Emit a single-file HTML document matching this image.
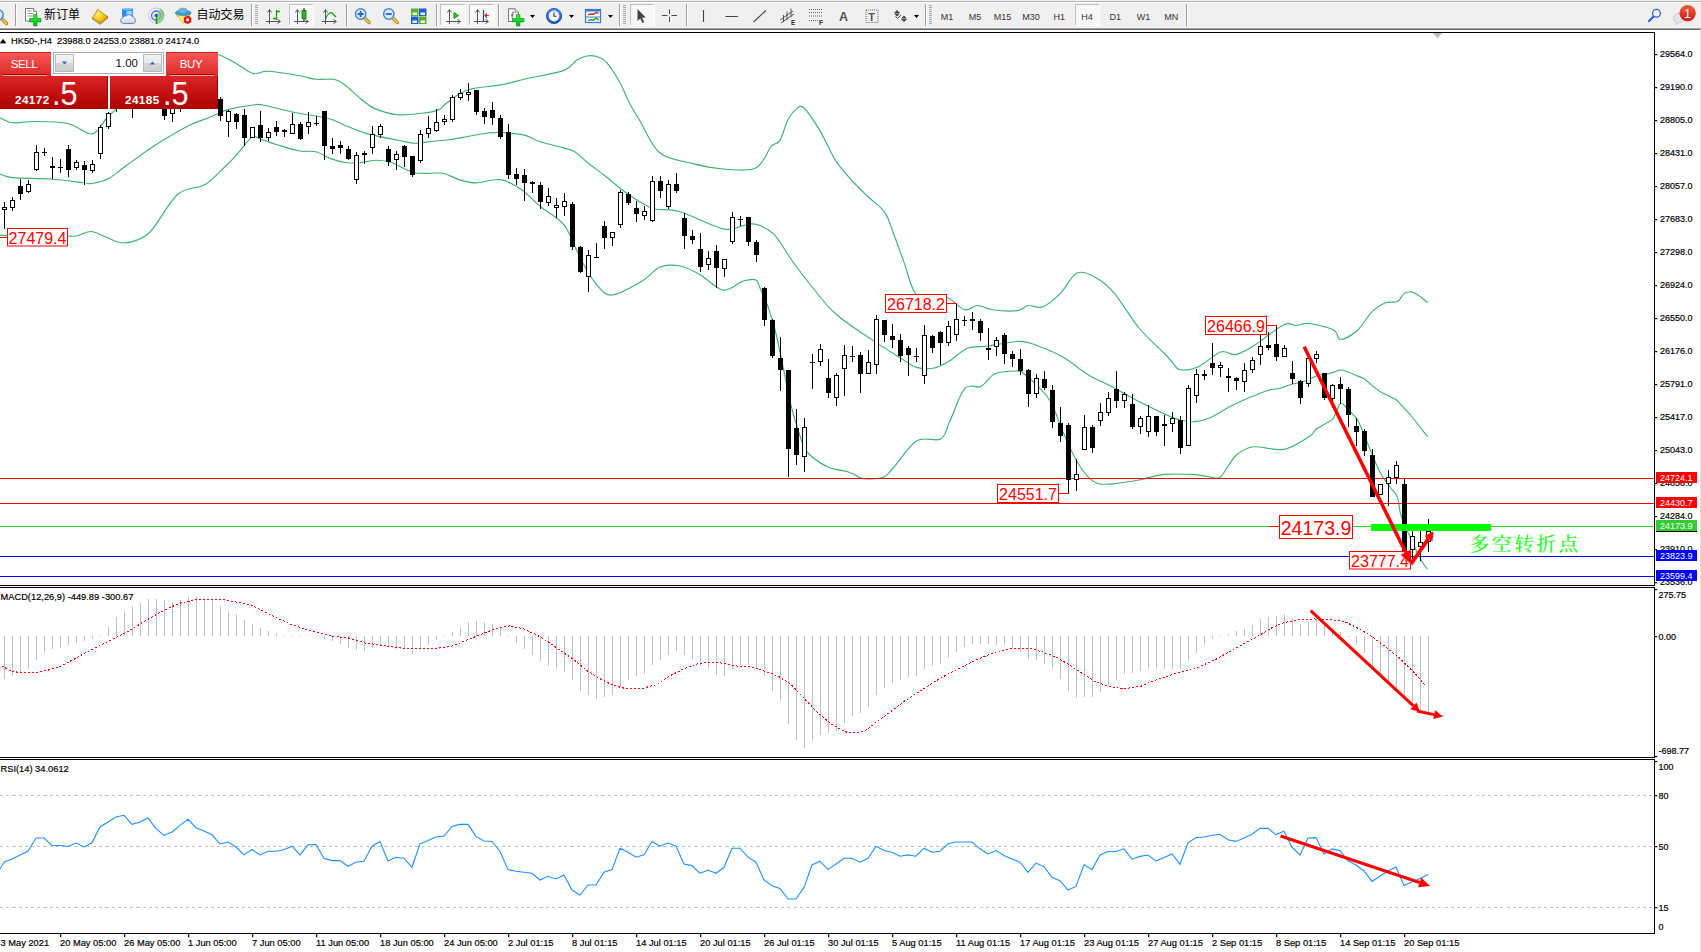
<!DOCTYPE html>
<html lang="zh-CN">
<head>
<meta charset="utf-8">
<title>HK50-,H4</title>
<style>
html,body{margin:0;padding:0;background:#fff;}
body{width:1701px;height:952px;overflow:hidden;position:relative;font-family:"Liberation Sans","Noto Sans CJK SC",sans-serif;}
#panel{position:absolute;left:0;top:52px;width:218px;height:57px;background:#fff;}
.pb{position:absolute;background:linear-gradient(#f85656,#dc2a2a);color:#fff;font-size:11.5px;text-align:center;}
.pp{position:absolute;top:24px;height:33px;background:linear-gradient(#da2626,#b00000);color:#fff;box-sizing:border-box;border-right:1px solid #a40000;border-bottom:1px solid #a40000;}
.pp b{position:absolute;font-size:11.7px;letter-spacing:0.42px;bottom:1.6px;}
.pp span{position:absolute;font-size:34px;line-height:34px;bottom:-1.6px;transform:scaleX(0.9);transform-origin:0 0;}
</style>
</head>
<body>
<svg width="1701" height="952" viewBox="0 0 1701 952" style="position:absolute;left:0;top:0" font-family='"Liberation Sans", "Noto Sans CJK SC", sans-serif'>
<defs><clipPath id="cm"><rect x="0" y="33" width="1654" height="552"/></clipPath></defs>
<g fill="none" stroke="#3cb371" stroke-width="1.15" clip-path="url(#cm)">
<path d="M0.0,117.7C2.1,118.5 7.1,122.2 12.6,122.8C18.1,123.4 23.8,121.4 33.0,121.5C42.2,121.6 58.2,121.4 68.0,123.5C77.8,125.6 85.7,134.8 92.0,134.0C98.3,133.2 102.4,122.8 106.0,119.0C109.6,115.2 110.5,114.6 113.7,111.4C116.9,108.2 117.3,105.9 125.0,100.0C132.7,94.1 149.2,82.8 160.0,76.0C170.8,69.2 182.0,62.8 190.0,59.0C198.0,55.2 203.2,54.2 208.0,53.5C212.8,52.8 214.2,53.2 218.8,54.8C223.4,56.4 229.6,59.8 235.3,62.9C241.0,66.0 247.6,72.1 253.0,73.5C258.4,74.9 260.4,70.9 268.0,71.2C275.6,71.5 290.5,74.2 298.5,75.5C306.5,76.8 310.1,78.7 316.0,79.3C321.9,79.9 329.2,78.5 333.9,79.3C338.6,80.1 339.4,80.9 344.0,84.3C348.6,87.7 356.6,95.5 361.7,99.5C366.8,103.5 368.4,105.9 374.3,108.4C380.2,110.9 388.6,114.0 397.0,114.7C405.4,115.5 417.9,113.8 424.9,112.9C431.9,112.1 435.2,111.2 438.8,109.6C442.4,108.0 442.8,106.0 446.4,103.3C450.0,100.6 455.9,95.7 460.3,93.2C464.7,90.8 466.2,90.0 472.9,88.6C479.6,87.2 491.8,86.5 500.7,84.9C509.6,83.3 515.5,81.2 526.0,78.8C536.5,76.4 555.5,73.5 563.9,70.4C572.3,67.3 572.7,62.7 576.5,60.3C580.3,57.9 583.3,56.6 586.7,56.0C590.1,55.4 593.4,55.4 596.8,56.5C600.2,57.6 603.1,58.7 606.9,62.9C610.7,67.1 615.7,75.1 619.5,81.8C623.3,88.5 626.2,96.8 629.6,103.3C633.0,109.8 634.9,112.7 640.0,121.0C645.1,129.3 651.2,145.9 660.0,153.0C668.8,160.1 682.5,160.9 693.0,163.6C703.5,166.3 713.2,168.1 723.0,169.0C732.8,169.9 745.3,170.7 752.0,169.3C758.7,167.9 759.8,164.4 763.0,160.5C766.2,156.6 768.5,149.3 771.3,146.0C774.1,142.7 777.3,144.7 780.0,140.4C782.7,136.1 785.0,125.5 787.7,120.2C790.5,115.0 793.8,110.9 796.5,108.9C799.2,106.9 800.0,104.2 804.0,108.0C808.0,111.8 815.2,122.8 820.5,131.6C825.8,140.4 830.1,152.2 835.6,160.6C841.1,169.0 847.8,175.9 853.3,182.0C858.8,188.1 863.1,191.9 868.4,197.0C873.6,202.1 880.6,206.2 884.8,212.3C889.0,218.4 890.5,225.5 893.6,233.7C896.8,241.9 900.1,251.5 903.7,261.4C907.3,271.3 910.6,287.1 915.0,292.9C919.4,298.7 924.5,295.1 930.0,296.0C935.5,296.9 942.2,295.7 948.0,298.0C953.8,300.3 959.9,308.6 964.8,309.8C969.7,311.1 972.8,305.5 977.4,305.5C982.0,305.5 985.9,308.9 992.6,309.8C999.3,310.7 1011.9,311.3 1017.8,310.6C1023.7,309.9 1023.8,306.1 1028.0,305.5C1032.2,304.9 1037.5,308.9 1043.0,306.8C1048.5,304.7 1055.1,298.5 1060.8,292.9C1066.5,287.3 1071.1,275.5 1077.0,273.0C1082.9,270.5 1089.8,274.4 1096.0,277.7C1102.2,281.0 1106.8,284.5 1114.0,292.9C1121.2,301.3 1130.6,317.9 1139.0,328.0C1147.4,338.1 1159.0,347.8 1164.5,353.5C1170.0,359.2 1169.4,359.3 1172.0,362.0C1174.6,364.7 1175.7,368.9 1180.0,369.7C1184.3,370.5 1191.0,369.9 1197.8,367.0C1204.6,364.1 1214.3,354.1 1220.6,352.0C1226.9,349.9 1230.2,355.6 1235.7,354.6C1241.2,353.6 1245.4,351.0 1253.4,346.0C1261.4,341.0 1276.5,328.1 1283.7,324.7C1290.9,321.3 1292.2,325.7 1296.4,325.5C1300.6,325.3 1302.8,322.8 1309.0,323.5C1315.2,324.2 1328.4,327.3 1333.6,330.0C1338.8,332.7 1336.5,339.4 1340.4,339.5C1344.3,339.6 1351.9,335.1 1357.2,330.5C1362.5,325.9 1367.4,316.2 1372.0,311.6C1376.6,307.0 1380.7,304.7 1384.9,303.0C1389.2,301.3 1394.3,303.0 1397.5,301.5C1400.7,300.0 1401.5,295.5 1403.8,293.9C1406.1,292.3 1408.7,291.5 1411.4,291.9C1414.1,292.3 1417.3,294.6 1420.0,296.4C1422.7,298.2 1426.5,301.7 1427.8,302.8"/>
<path d="M0.0,174.0C2.1,174.6 4.2,176.8 12.6,177.6C21.0,178.4 38.7,178.2 50.5,179.0C62.3,179.8 76.5,181.9 83.4,182.7C90.3,183.4 87.8,184.2 92.0,183.5C96.2,182.8 103.0,181.3 108.7,178.4C114.4,175.5 118.0,171.5 126.0,165.8C134.0,160.1 146.1,151.1 156.7,144.3C167.3,137.6 180.7,129.8 189.6,125.3C198.5,120.8 203.7,119.8 210.0,117.2C216.3,114.6 220.5,111.6 227.7,109.6C234.9,107.6 247.1,105.8 253.0,105.0C258.9,104.2 256.3,103.8 263.0,105.0C269.7,106.2 282.4,110.0 293.4,112.2C304.4,114.5 319.9,116.2 328.8,118.5C337.7,120.8 340.2,123.5 346.5,126.0C352.8,128.5 358.3,131.3 366.7,133.6C375.1,135.9 389.0,138.4 397.0,140.0C405.0,141.6 408.9,143.0 414.8,143.2C420.7,143.4 426.9,141.7 432.4,141.2C437.9,140.7 442.5,140.6 447.6,140.0C452.7,139.4 456.1,138.6 462.8,137.4C469.5,136.2 481.7,133.8 488.0,133.0C494.3,132.2 494.8,132.1 500.7,132.4C506.6,132.7 517.2,133.4 523.5,134.9C529.8,136.4 532.7,139.2 538.6,141.2C544.5,143.2 552.9,145.1 558.8,146.8C564.7,148.5 568.9,148.4 574.0,151.3C579.1,154.2 584.2,160.0 589.2,164.0C594.2,168.0 598.4,170.7 604.3,175.3C610.2,179.9 618.6,187.4 624.6,191.8C630.6,196.2 634.9,199.0 640.0,201.9C645.1,204.8 648.3,207.4 655.0,209.0C661.7,210.6 668.7,208.4 680.0,211.7C691.3,215.0 712.4,226.6 723.0,228.9C733.6,231.2 738.1,226.4 743.6,225.6C749.1,224.8 750.9,222.8 756.0,224.3C761.1,225.8 768.1,228.5 774.0,234.4C779.9,240.3 785.5,251.6 791.6,260.0C797.7,268.4 803.2,276.0 810.6,285.0C818.0,294.0 825.3,304.7 835.8,314.0C846.3,323.3 863.2,333.7 873.7,340.9C884.2,348.1 891.8,352.6 899.0,357.0C906.2,361.4 910.8,365.6 916.7,367.4C922.6,369.2 928.9,369.1 934.4,368.0C939.9,366.9 944.2,364.2 949.6,361.0C955.0,357.8 960.7,351.0 967.0,348.5C973.3,346.0 978.7,347.2 987.5,346.0C996.3,344.8 1011.6,341.4 1020.0,341.4C1028.4,341.4 1030.8,343.4 1038.0,346.0C1045.2,348.6 1054.6,352.2 1063.0,357.0C1071.4,361.8 1080.1,369.9 1088.6,375.0C1097.1,380.1 1105.6,383.3 1114.0,387.7C1122.4,392.1 1130.6,397.2 1139.0,401.6C1147.4,406.0 1157.7,410.9 1164.5,414.0C1171.3,417.1 1174.9,418.7 1180.0,420.0C1185.1,421.3 1190.0,422.0 1195.0,421.6C1200.0,421.2 1203.7,420.6 1210.0,417.8C1216.3,415.0 1223.7,409.5 1233.0,405.0C1242.3,400.5 1258.2,393.8 1266.0,391.0C1273.8,388.2 1275.6,389.5 1280.0,388.3C1284.4,387.1 1288.4,385.2 1292.6,384.0C1296.8,382.8 1301.2,382.4 1305.2,381.0C1309.2,379.6 1313.1,376.9 1316.8,375.7C1320.5,374.5 1324.3,374.6 1327.3,374.0C1330.3,373.4 1332.4,372.7 1334.6,372.0C1336.8,371.3 1338.5,370.1 1340.4,370.0C1342.3,369.9 1343.7,370.3 1346.2,371.2C1348.7,372.1 1352.6,373.9 1355.6,375.2C1358.6,376.5 1361.2,377.1 1364.0,378.8C1366.8,380.6 1369.6,383.5 1372.4,385.7C1375.2,387.9 1377.0,389.7 1380.8,392.0C1384.6,394.3 1392.2,397.2 1395.5,399.3C1398.8,401.4 1398.2,401.8 1400.8,404.6C1403.4,407.4 1407.8,411.9 1411.3,416.0C1414.8,420.1 1419.0,425.9 1421.8,429.3C1424.5,432.8 1426.8,435.5 1427.8,436.7"/>
<path d="M0.0,235.3C10.0,235.4 47.3,235.7 60.0,235.8C72.7,235.9 70.8,236.7 76.0,236.0C81.2,235.3 86.2,231.4 91.0,231.5C95.8,231.6 99.5,234.6 105.0,236.5C110.5,238.4 116.7,243.6 124.0,243.0C131.3,242.4 140.2,241.0 149.0,233.0C157.8,225.0 168.2,202.8 177.0,195.0C185.8,187.2 196.5,188.3 202.0,186.0C207.5,183.7 207.0,183.3 210.0,180.9C213.0,178.5 215.8,175.7 220.0,171.6C224.2,167.5 230.0,162.1 235.3,156.4C240.6,150.7 247.5,140.3 251.7,137.4C255.9,134.5 256.6,138.0 260.6,139.2C264.6,140.3 269.4,142.4 275.7,144.3C282.0,146.2 291.8,149.6 298.5,150.8C305.2,152.1 310.5,150.5 316.0,151.8C321.5,153.2 326.2,157.1 331.3,158.9C336.4,160.7 341.9,162.1 346.5,162.7C351.1,163.3 353.9,163.1 359.0,162.7C364.1,162.3 371.3,160.2 376.8,160.2C382.3,160.2 385.7,160.6 392.0,162.7C398.3,164.8 406.4,171.0 414.8,172.8C423.2,174.6 435.5,172.2 442.6,173.3C449.8,174.4 452.2,177.5 457.7,179.1C463.2,180.7 468.2,182.8 475.4,182.9C482.6,183.0 493.1,178.5 500.7,179.6C508.3,180.7 514.2,184.7 520.9,189.3C527.6,193.9 533.8,201.1 541.0,207.0C548.2,212.9 558.0,217.4 563.9,224.6C569.8,231.8 573.1,243.3 576.5,250.0C579.9,256.7 580.6,259.2 584.0,265.0C587.4,270.8 592.3,280.0 597.0,285.0C601.7,290.0 604.4,295.7 612.0,295.0C619.6,294.3 634.4,285.7 642.4,281.0C650.4,276.3 653.7,269.5 660.0,267.0C666.3,264.5 673.2,264.7 680.0,266.0C686.8,267.3 693.4,270.9 700.6,274.9C707.8,278.9 715.8,289.0 723.0,290.0C730.2,291.0 738.1,282.7 743.6,281.0C749.1,279.3 753.3,278.8 756.0,280.0C758.7,281.2 758.1,283.8 760.0,288.0C761.9,292.2 765.1,298.6 767.6,305.5C770.1,312.4 772.1,317.8 775.0,329.5C777.9,341.2 782.5,364.0 785.0,376.0C787.5,388.0 787.4,391.4 790.0,401.6C792.6,411.8 797.4,428.4 800.4,437.0C803.4,445.6 803.4,448.0 808.0,453.0C812.6,458.0 821.2,463.8 828.0,467.0C834.8,470.2 843.0,470.2 848.5,472.0C854.0,473.8 857.6,476.8 861.0,478.0C864.4,479.2 864.9,479.2 868.7,479.0C872.5,478.8 879.7,479.0 883.9,477.0C888.1,475.0 888.5,473.1 894.0,467.0C899.5,460.9 908.9,445.4 916.7,440.7C924.5,436.0 935.2,442.1 940.7,439.0C946.2,435.9 945.6,430.2 949.6,421.8C953.6,413.4 959.6,394.3 964.8,388.4C970.0,382.5 976.0,388.8 981.0,386.4C986.0,384.0 988.9,376.4 995.0,373.8C1001.1,371.2 1013.0,371.0 1017.8,371.0C1022.6,371.0 1020.6,371.2 1024.0,373.8C1027.4,376.4 1033.5,381.8 1038.0,386.4C1042.5,391.0 1046.5,394.0 1050.7,401.6C1054.9,409.2 1058.8,422.2 1063.0,431.9C1067.2,441.6 1071.7,452.1 1076.0,459.7C1080.3,467.3 1084.8,473.4 1088.6,477.4C1092.4,481.4 1094.5,482.6 1098.7,483.7C1102.9,484.8 1107.3,484.3 1114.0,483.7C1120.7,483.1 1130.6,481.6 1139.0,480.0C1147.4,478.4 1155.2,475.3 1164.5,474.4C1173.8,473.5 1187.4,474.2 1195.0,474.6C1202.6,475.0 1205.7,476.6 1210.0,477.0C1214.3,477.4 1216.3,480.2 1220.6,476.7C1224.9,473.1 1230.2,460.7 1235.7,455.7C1241.2,450.7 1245.4,447.9 1253.4,446.8C1261.4,445.8 1274.4,451.1 1283.7,449.4C1293.0,447.7 1303.6,440.0 1309.0,436.7C1314.4,433.4 1313.5,431.3 1316.0,429.3C1318.5,427.3 1321.2,426.2 1324.0,424.5C1326.8,422.8 1330.5,421.2 1332.5,419.3C1334.5,417.4 1334.4,415.6 1335.7,413.0C1337.0,410.4 1338.8,404.6 1340.4,403.5C1342.1,402.4 1343.8,405.1 1345.6,406.7C1347.4,408.3 1349.7,411.2 1351.4,413.0C1353.1,414.8 1354.6,415.8 1356.0,417.7C1357.4,419.6 1358.0,420.5 1359.8,424.5C1361.6,428.5 1363.7,433.9 1367.0,441.8C1370.3,449.7 1376.0,464.5 1379.8,472.0C1383.6,479.5 1387.0,482.8 1390.0,487.0C1393.0,491.2 1395.7,492.6 1397.5,497.4C1399.3,502.2 1399.0,509.3 1401.0,515.7C1403.0,522.1 1406.9,529.7 1409.5,535.6C1412.1,541.5 1414.2,546.5 1416.4,550.9C1418.6,555.3 1420.7,559.2 1422.5,562.3C1424.3,565.3 1426.6,568.1 1427.4,569.2"/>
</g>
<g shape-rendering="crispEdges">
<rect x="0" y="478" width="1654" height="1" fill="#ff0000"/>
<rect x="0" y="503" width="1654" height="1" fill="#ff0000"/>
<rect x="0" y="526" width="1654" height="1" fill="#32cd32"/>
<rect x="0" y="556" width="1654" height="1" fill="#0000ff"/>
<rect x="0" y="576" width="1654" height="1" fill="#0000ff"/>
</g>
<g shape-rendering="crispEdges" clip-path="url(#cm)">
<rect x="4" y="202" width="1" height="27" fill="#000"/>
<rect x="2" y="207" width="5" height="3" fill="#000"/>
<rect x="3" y="208" width="3" height="1" fill="#fff"/>
<rect x="12" y="197" width="1" height="14" fill="#000"/>
<rect x="10" y="200" width="5" height="8" fill="#000"/>
<rect x="11" y="201" width="3" height="6" fill="#fff"/>
<rect x="20" y="179" width="1" height="21" fill="#000"/>
<rect x="18" y="186" width="5" height="8" fill="#000"/>
<rect x="28" y="180" width="1" height="13" fill="#000"/>
<rect x="26" y="184" width="5" height="8" fill="#000"/>
<rect x="27" y="185" width="3" height="6" fill="#fff"/>
<rect x="36" y="145" width="1" height="26" fill="#000"/>
<rect x="34" y="152" width="5" height="18" fill="#000"/>
<rect x="35" y="153" width="3" height="16" fill="#fff"/>
<rect x="44" y="148" width="1" height="8" fill="#000"/>
<rect x="42" y="152" width="5" height="1" fill="#000"/>
<rect x="52" y="157" width="1" height="22" fill="#000"/>
<rect x="50" y="166" width="5" height="2" fill="#000"/>
<rect x="60" y="159" width="1" height="14" fill="#000"/>
<rect x="58" y="167" width="5" height="1" fill="#000"/>
<rect x="68" y="145" width="1" height="32" fill="#000"/>
<rect x="66" y="149" width="5" height="21" fill="#000"/>
<rect x="76" y="160" width="1" height="10" fill="#000"/>
<rect x="74" y="162" width="5" height="6" fill="#000"/>
<rect x="75" y="163" width="3" height="4" fill="#fff"/>
<rect x="84" y="161" width="1" height="24" fill="#000"/>
<rect x="82" y="165" width="5" height="5" fill="#000"/>
<rect x="92" y="160" width="1" height="13" fill="#000"/>
<rect x="90" y="164" width="5" height="7" fill="#000"/>
<rect x="91" y="165" width="3" height="5" fill="#fff"/>
<rect x="100" y="125" width="1" height="34" fill="#000"/>
<rect x="98" y="127" width="5" height="27" fill="#000"/>
<rect x="99" y="128" width="3" height="25" fill="#fff"/>
<rect x="108" y="112" width="1" height="17" fill="#000"/>
<rect x="106" y="113" width="5" height="14" fill="#000"/>
<rect x="107" y="114" width="3" height="12" fill="#fff"/>
<rect x="116" y="95" width="1" height="17" fill="#000"/>
<rect x="114" y="98" width="5" height="8" fill="#000"/>
<rect x="115" y="99" width="3" height="6" fill="#fff"/>
<rect x="132" y="95" width="1" height="23" fill="#000"/>
<rect x="130" y="100" width="5" height="4" fill="#000"/>
<rect x="131" y="101" width="3" height="2" fill="#fff"/>
<rect x="164" y="95" width="1" height="25" fill="#000"/>
<rect x="162" y="98" width="5" height="18" fill="#000"/>
<rect x="172" y="95" width="1" height="27" fill="#000"/>
<rect x="170" y="98" width="5" height="16" fill="#000"/>
<rect x="171" y="99" width="3" height="14" fill="#fff"/>
<rect x="180" y="95" width="1" height="17" fill="#000"/>
<rect x="178" y="98" width="5" height="6" fill="#000"/>
<rect x="179" y="99" width="3" height="4" fill="#fff"/>
<rect x="220" y="97" width="1" height="24" fill="#000"/>
<rect x="218" y="99" width="5" height="17" fill="#000"/>
<rect x="228" y="110" width="1" height="27" fill="#000"/>
<rect x="226" y="111" width="5" height="11" fill="#000"/>
<rect x="227" y="112" width="3" height="9" fill="#fff"/>
<rect x="236" y="113" width="1" height="16" fill="#000"/>
<rect x="234" y="114" width="5" height="8" fill="#000"/>
<rect x="244" y="109" width="1" height="37" fill="#000"/>
<rect x="242" y="115" width="5" height="23" fill="#000"/>
<rect x="252" y="127" width="1" height="11" fill="#000"/>
<rect x="250" y="127" width="5" height="11" fill="#000"/>
<rect x="251" y="128" width="3" height="9" fill="#fff"/>
<rect x="260" y="111" width="1" height="31" fill="#000"/>
<rect x="258" y="125" width="5" height="13" fill="#000"/>
<rect x="268" y="128" width="1" height="13" fill="#000"/>
<rect x="266" y="132" width="5" height="6" fill="#000"/>
<rect x="267" y="133" width="3" height="4" fill="#fff"/>
<rect x="276" y="121" width="1" height="15" fill="#000"/>
<rect x="274" y="127" width="5" height="5" fill="#000"/>
<rect x="284" y="129" width="1" height="8" fill="#000"/>
<rect x="282" y="130" width="5" height="2" fill="#000"/>
<rect x="292" y="113" width="1" height="21" fill="#000"/>
<rect x="290" y="124" width="5" height="10" fill="#000"/>
<rect x="291" y="125" width="3" height="8" fill="#fff"/>
<rect x="300" y="122" width="1" height="18" fill="#000"/>
<rect x="298" y="124" width="5" height="15" fill="#000"/>
<rect x="308" y="112" width="1" height="22" fill="#000"/>
<rect x="306" y="122" width="5" height="5" fill="#000"/>
<rect x="307" y="123" width="3" height="3" fill="#fff"/>
<rect x="316" y="116" width="1" height="10" fill="#000"/>
<rect x="314" y="123" width="5" height="1" fill="#000"/>
<rect x="324" y="111" width="1" height="49" fill="#000"/>
<rect x="322" y="111" width="5" height="35" fill="#000"/>
<rect x="332" y="138" width="1" height="16" fill="#000"/>
<rect x="330" y="146" width="5" height="3" fill="#000"/>
<rect x="340" y="141" width="1" height="13" fill="#000"/>
<rect x="338" y="145" width="5" height="3" fill="#000"/>
<rect x="348" y="146" width="1" height="14" fill="#000"/>
<rect x="346" y="149" width="5" height="10" fill="#000"/>
<rect x="356" y="152" width="1" height="32" fill="#000"/>
<rect x="354" y="155" width="5" height="25" fill="#000"/>
<rect x="355" y="156" width="3" height="23" fill="#fff"/>
<rect x="364" y="151" width="1" height="13" fill="#000"/>
<rect x="362" y="153" width="5" height="2" fill="#000"/>
<rect x="372" y="126" width="1" height="28" fill="#000"/>
<rect x="370" y="134" width="5" height="14" fill="#000"/>
<rect x="371" y="135" width="3" height="12" fill="#fff"/>
<rect x="380" y="124" width="1" height="14" fill="#000"/>
<rect x="378" y="126" width="5" height="9" fill="#000"/>
<rect x="379" y="127" width="3" height="7" fill="#fff"/>
<rect x="388" y="146" width="1" height="20" fill="#000"/>
<rect x="386" y="149" width="5" height="13" fill="#000"/>
<rect x="396" y="151" width="1" height="19" fill="#000"/>
<rect x="394" y="154" width="5" height="6" fill="#000"/>
<rect x="395" y="155" width="3" height="4" fill="#fff"/>
<rect x="404" y="145" width="1" height="22" fill="#000"/>
<rect x="402" y="146" width="5" height="11" fill="#000"/>
<rect x="412" y="156" width="1" height="21" fill="#000"/>
<rect x="410" y="156" width="5" height="19" fill="#000"/>
<rect x="420" y="130" width="1" height="33" fill="#000"/>
<rect x="418" y="134" width="5" height="27" fill="#000"/>
<rect x="419" y="135" width="3" height="25" fill="#fff"/>
<rect x="428" y="116" width="1" height="22" fill="#000"/>
<rect x="426" y="128" width="5" height="6" fill="#000"/>
<rect x="427" y="129" width="3" height="4" fill="#fff"/>
<rect x="436" y="109" width="1" height="23" fill="#000"/>
<rect x="434" y="122" width="5" height="9" fill="#000"/>
<rect x="435" y="123" width="3" height="7" fill="#fff"/>
<rect x="444" y="115" width="1" height="10" fill="#000"/>
<rect x="442" y="119" width="5" height="3" fill="#000"/>
<rect x="443" y="120" width="3" height="1" fill="#fff"/>
<rect x="452" y="95" width="1" height="27" fill="#000"/>
<rect x="450" y="97" width="5" height="23" fill="#000"/>
<rect x="451" y="98" width="3" height="21" fill="#fff"/>
<rect x="460" y="89" width="1" height="11" fill="#000"/>
<rect x="458" y="93" width="5" height="5" fill="#000"/>
<rect x="459" y="94" width="3" height="3" fill="#fff"/>
<rect x="468" y="83" width="1" height="18" fill="#000"/>
<rect x="466" y="92" width="5" height="3" fill="#000"/>
<rect x="467" y="93" width="3" height="1" fill="#fff"/>
<rect x="476" y="90" width="1" height="25" fill="#000"/>
<rect x="474" y="90" width="5" height="22" fill="#000"/>
<rect x="484" y="108" width="1" height="16" fill="#000"/>
<rect x="482" y="111" width="5" height="6" fill="#000"/>
<rect x="492" y="102" width="1" height="23" fill="#000"/>
<rect x="490" y="110" width="5" height="8" fill="#000"/>
<rect x="500" y="115" width="1" height="24" fill="#000"/>
<rect x="498" y="118" width="5" height="19" fill="#000"/>
<rect x="508" y="124" width="1" height="55" fill="#000"/>
<rect x="506" y="132" width="5" height="43" fill="#000"/>
<rect x="516" y="168" width="1" height="17" fill="#000"/>
<rect x="514" y="174" width="5" height="5" fill="#000"/>
<rect x="524" y="169" width="1" height="32" fill="#000"/>
<rect x="522" y="175" width="5" height="8" fill="#000"/>
<rect x="532" y="181" width="1" height="12" fill="#000"/>
<rect x="530" y="182" width="5" height="2" fill="#000"/>
<rect x="540" y="182" width="1" height="27" fill="#000"/>
<rect x="538" y="185" width="5" height="17" fill="#000"/>
<rect x="548" y="188" width="1" height="18" fill="#000"/>
<rect x="546" y="196" width="5" height="7" fill="#000"/>
<rect x="547" y="197" width="3" height="5" fill="#fff"/>
<rect x="556" y="198" width="1" height="20" fill="#000"/>
<rect x="554" y="205" width="5" height="3" fill="#000"/>
<rect x="555" y="206" width="3" height="1" fill="#fff"/>
<rect x="564" y="193" width="1" height="23" fill="#000"/>
<rect x="562" y="201" width="5" height="6" fill="#000"/>
<rect x="563" y="202" width="3" height="4" fill="#fff"/>
<rect x="572" y="202" width="1" height="48" fill="#000"/>
<rect x="570" y="204" width="5" height="43" fill="#000"/>
<rect x="580" y="246" width="1" height="27" fill="#000"/>
<rect x="578" y="247" width="5" height="25" fill="#000"/>
<rect x="588" y="250" width="1" height="42" fill="#000"/>
<rect x="586" y="255" width="5" height="22" fill="#000"/>
<rect x="587" y="256" width="3" height="20" fill="#fff"/>
<rect x="596" y="243" width="1" height="14" fill="#000"/>
<rect x="594" y="257" width="5" height="1" fill="#000"/>
<rect x="604" y="221" width="1" height="28" fill="#000"/>
<rect x="602" y="226" width="5" height="12" fill="#000"/>
<rect x="612" y="232" width="1" height="14" fill="#000"/>
<rect x="610" y="232" width="5" height="6" fill="#000"/>
<rect x="611" y="233" width="3" height="4" fill="#fff"/>
<rect x="620" y="190" width="1" height="38" fill="#000"/>
<rect x="618" y="192" width="5" height="33" fill="#000"/>
<rect x="619" y="193" width="3" height="31" fill="#fff"/>
<rect x="628" y="192" width="1" height="13" fill="#000"/>
<rect x="626" y="194" width="5" height="9" fill="#000"/>
<rect x="636" y="201" width="1" height="21" fill="#000"/>
<rect x="634" y="208" width="5" height="6" fill="#000"/>
<rect x="644" y="206" width="1" height="14" fill="#000"/>
<rect x="642" y="211" width="5" height="5" fill="#000"/>
<rect x="643" y="212" width="3" height="3" fill="#fff"/>
<rect x="652" y="176" width="1" height="46" fill="#000"/>
<rect x="650" y="181" width="5" height="40" fill="#000"/>
<rect x="651" y="182" width="3" height="38" fill="#fff"/>
<rect x="660" y="176" width="1" height="22" fill="#000"/>
<rect x="658" y="181" width="5" height="10" fill="#000"/>
<rect x="668" y="180" width="1" height="29" fill="#000"/>
<rect x="666" y="184" width="5" height="23" fill="#000"/>
<rect x="667" y="185" width="3" height="21" fill="#fff"/>
<rect x="676" y="173" width="1" height="20" fill="#000"/>
<rect x="674" y="184" width="5" height="7" fill="#000"/>
<rect x="684" y="213" width="1" height="36" fill="#000"/>
<rect x="682" y="218" width="5" height="18" fill="#000"/>
<rect x="692" y="230" width="1" height="14" fill="#000"/>
<rect x="690" y="236" width="5" height="4" fill="#000"/>
<rect x="700" y="233" width="1" height="39" fill="#000"/>
<rect x="698" y="249" width="5" height="18" fill="#000"/>
<rect x="708" y="251" width="1" height="19" fill="#000"/>
<rect x="706" y="258" width="5" height="7" fill="#000"/>
<rect x="707" y="259" width="3" height="5" fill="#fff"/>
<rect x="716" y="245" width="1" height="43" fill="#000"/>
<rect x="714" y="251" width="5" height="17" fill="#000"/>
<rect x="724" y="259" width="1" height="18" fill="#000"/>
<rect x="722" y="259" width="5" height="10" fill="#000"/>
<rect x="723" y="260" width="3" height="8" fill="#fff"/>
<rect x="732" y="212" width="1" height="32" fill="#000"/>
<rect x="730" y="217" width="5" height="25" fill="#000"/>
<rect x="731" y="218" width="3" height="23" fill="#fff"/>
<rect x="740" y="216" width="1" height="10" fill="#000"/>
<rect x="738" y="219" width="5" height="1" fill="#000"/>
<rect x="748" y="217" width="1" height="29" fill="#000"/>
<rect x="746" y="217" width="5" height="25" fill="#000"/>
<rect x="756" y="240" width="1" height="22" fill="#000"/>
<rect x="754" y="242" width="5" height="13" fill="#000"/>
<rect x="764" y="287" width="1" height="39" fill="#000"/>
<rect x="762" y="288" width="5" height="32" fill="#000"/>
<rect x="772" y="319" width="1" height="39" fill="#000"/>
<rect x="770" y="320" width="5" height="36" fill="#000"/>
<rect x="780" y="337" width="1" height="54" fill="#000"/>
<rect x="778" y="358" width="5" height="12" fill="#000"/>
<rect x="788" y="370" width="1" height="107" fill="#000"/>
<rect x="786" y="370" width="5" height="79" fill="#000"/>
<rect x="796" y="409" width="1" height="56" fill="#000"/>
<rect x="794" y="428" width="5" height="27" fill="#000"/>
<rect x="804" y="418" width="1" height="54" fill="#000"/>
<rect x="802" y="427" width="5" height="30" fill="#000"/>
<rect x="803" y="428" width="3" height="28" fill="#fff"/>
<rect x="812" y="354" width="1" height="35" fill="#000"/>
<rect x="810" y="362" width="5" height="1" fill="#000"/>
<rect x="820" y="344" width="1" height="22" fill="#000"/>
<rect x="818" y="349" width="5" height="13" fill="#000"/>
<rect x="819" y="350" width="3" height="11" fill="#fff"/>
<rect x="828" y="359" width="1" height="39" fill="#000"/>
<rect x="826" y="378" width="5" height="15" fill="#000"/>
<rect x="836" y="373" width="1" height="33" fill="#000"/>
<rect x="834" y="375" width="5" height="23" fill="#000"/>
<rect x="835" y="376" width="3" height="21" fill="#fff"/>
<rect x="844" y="345" width="1" height="51" fill="#000"/>
<rect x="842" y="355" width="5" height="14" fill="#000"/>
<rect x="843" y="356" width="3" height="12" fill="#fff"/>
<rect x="852" y="346" width="1" height="16" fill="#000"/>
<rect x="850" y="356" width="5" height="1" fill="#000"/>
<rect x="860" y="352" width="1" height="41" fill="#000"/>
<rect x="858" y="355" width="5" height="19" fill="#000"/>
<rect x="868" y="350" width="1" height="24" fill="#000"/>
<rect x="866" y="362" width="5" height="12" fill="#000"/>
<rect x="867" y="363" width="3" height="10" fill="#fff"/>
<rect x="876" y="315" width="1" height="59" fill="#000"/>
<rect x="874" y="319" width="5" height="46" fill="#000"/>
<rect x="875" y="320" width="3" height="44" fill="#fff"/>
<rect x="884" y="320" width="1" height="22" fill="#000"/>
<rect x="882" y="320" width="5" height="15" fill="#000"/>
<rect x="892" y="324" width="1" height="24" fill="#000"/>
<rect x="890" y="336" width="5" height="4" fill="#000"/>
<rect x="900" y="334" width="1" height="28" fill="#000"/>
<rect x="898" y="340" width="5" height="16" fill="#000"/>
<rect x="908" y="346" width="1" height="30" fill="#000"/>
<rect x="906" y="348" width="5" height="7" fill="#000"/>
<rect x="916" y="348" width="1" height="14" fill="#000"/>
<rect x="914" y="356" width="5" height="1" fill="#000"/>
<rect x="924" y="325" width="1" height="59" fill="#000"/>
<rect x="922" y="335" width="5" height="41" fill="#000"/>
<rect x="923" y="336" width="3" height="39" fill="#fff"/>
<rect x="932" y="335" width="1" height="18" fill="#000"/>
<rect x="930" y="336" width="5" height="12" fill="#000"/>
<rect x="940" y="331" width="1" height="34" fill="#000"/>
<rect x="938" y="332" width="5" height="11" fill="#000"/>
<rect x="948" y="321" width="1" height="25" fill="#000"/>
<rect x="946" y="326" width="5" height="17" fill="#000"/>
<rect x="947" y="327" width="3" height="15" fill="#fff"/>
<rect x="956" y="304" width="1" height="37" fill="#000"/>
<rect x="954" y="319" width="5" height="16" fill="#000"/>
<rect x="955" y="320" width="3" height="14" fill="#fff"/>
<rect x="964" y="316" width="1" height="10" fill="#000"/>
<rect x="962" y="320" width="5" height="1" fill="#000"/>
<rect x="972" y="312" width="1" height="18" fill="#000"/>
<rect x="970" y="319" width="5" height="2" fill="#000"/>
<rect x="980" y="319" width="1" height="22" fill="#000"/>
<rect x="978" y="321" width="5" height="12" fill="#000"/>
<rect x="988" y="328" width="1" height="32" fill="#000"/>
<rect x="986" y="348" width="5" height="2" fill="#000"/>
<rect x="996" y="337" width="1" height="19" fill="#000"/>
<rect x="994" y="340" width="5" height="7" fill="#000"/>
<rect x="995" y="341" width="3" height="5" fill="#fff"/>
<rect x="1004" y="333" width="1" height="31" fill="#000"/>
<rect x="1002" y="335" width="5" height="19" fill="#000"/>
<rect x="1012" y="351" width="1" height="16" fill="#000"/>
<rect x="1010" y="354" width="5" height="5" fill="#000"/>
<rect x="1020" y="349" width="1" height="26" fill="#000"/>
<rect x="1018" y="359" width="5" height="12" fill="#000"/>
<rect x="1028" y="369" width="1" height="38" fill="#000"/>
<rect x="1026" y="370" width="5" height="24" fill="#000"/>
<rect x="1036" y="374" width="1" height="24" fill="#000"/>
<rect x="1034" y="378" width="5" height="16" fill="#000"/>
<rect x="1035" y="379" width="3" height="14" fill="#fff"/>
<rect x="1044" y="371" width="1" height="19" fill="#000"/>
<rect x="1042" y="379" width="5" height="9" fill="#000"/>
<rect x="1052" y="385" width="1" height="43" fill="#000"/>
<rect x="1050" y="390" width="5" height="32" fill="#000"/>
<rect x="1060" y="407" width="1" height="35" fill="#000"/>
<rect x="1058" y="423" width="5" height="13" fill="#000"/>
<rect x="1068" y="423" width="1" height="70" fill="#000"/>
<rect x="1066" y="425" width="5" height="55" fill="#000"/>
<rect x="1076" y="459" width="1" height="32" fill="#000"/>
<rect x="1074" y="474" width="5" height="6" fill="#000"/>
<rect x="1075" y="475" width="3" height="4" fill="#fff"/>
<rect x="1084" y="415" width="1" height="35" fill="#000"/>
<rect x="1082" y="427" width="5" height="23" fill="#000"/>
<rect x="1083" y="428" width="3" height="21" fill="#fff"/>
<rect x="1092" y="425" width="1" height="28" fill="#000"/>
<rect x="1090" y="427" width="5" height="21" fill="#000"/>
<rect x="1100" y="403" width="1" height="23" fill="#000"/>
<rect x="1098" y="412" width="5" height="9" fill="#000"/>
<rect x="1099" y="413" width="3" height="7" fill="#fff"/>
<rect x="1108" y="392" width="1" height="24" fill="#000"/>
<rect x="1106" y="398" width="5" height="15" fill="#000"/>
<rect x="1107" y="399" width="3" height="13" fill="#fff"/>
<rect x="1116" y="371" width="1" height="37" fill="#000"/>
<rect x="1114" y="389" width="5" height="12" fill="#000"/>
<rect x="1124" y="392" width="1" height="16" fill="#000"/>
<rect x="1122" y="394" width="5" height="7" fill="#000"/>
<rect x="1123" y="395" width="3" height="5" fill="#fff"/>
<rect x="1132" y="394" width="1" height="35" fill="#000"/>
<rect x="1130" y="404" width="5" height="23" fill="#000"/>
<rect x="1140" y="416" width="1" height="18" fill="#000"/>
<rect x="1138" y="418" width="5" height="9" fill="#000"/>
<rect x="1139" y="419" width="3" height="7" fill="#fff"/>
<rect x="1148" y="405" width="1" height="32" fill="#000"/>
<rect x="1146" y="416" width="5" height="16" fill="#000"/>
<rect x="1147" y="417" width="3" height="14" fill="#fff"/>
<rect x="1156" y="416" width="1" height="20" fill="#000"/>
<rect x="1154" y="416" width="5" height="16" fill="#000"/>
<rect x="1164" y="415" width="1" height="31" fill="#000"/>
<rect x="1162" y="424" width="5" height="2" fill="#000"/>
<rect x="1172" y="412" width="1" height="20" fill="#000"/>
<rect x="1170" y="418" width="5" height="6" fill="#000"/>
<rect x="1171" y="419" width="3" height="4" fill="#fff"/>
<rect x="1180" y="416" width="1" height="38" fill="#000"/>
<rect x="1178" y="420" width="5" height="28" fill="#000"/>
<rect x="1188" y="385" width="1" height="61" fill="#000"/>
<rect x="1186" y="388" width="5" height="58" fill="#000"/>
<rect x="1187" y="389" width="3" height="56" fill="#fff"/>
<rect x="1196" y="369" width="1" height="34" fill="#000"/>
<rect x="1194" y="374" width="5" height="22" fill="#000"/>
<rect x="1195" y="375" width="3" height="20" fill="#fff"/>
<rect x="1204" y="370" width="1" height="10" fill="#000"/>
<rect x="1202" y="374" width="5" height="2" fill="#000"/>
<rect x="1212" y="343" width="1" height="32" fill="#000"/>
<rect x="1210" y="363" width="5" height="5" fill="#000"/>
<rect x="1220" y="362" width="1" height="15" fill="#000"/>
<rect x="1218" y="365" width="5" height="3" fill="#000"/>
<rect x="1219" y="366" width="3" height="1" fill="#fff"/>
<rect x="1228" y="368" width="1" height="24" fill="#000"/>
<rect x="1226" y="376" width="5" height="2" fill="#000"/>
<rect x="1236" y="377" width="1" height="13" fill="#000"/>
<rect x="1234" y="378" width="5" height="3" fill="#000"/>
<rect x="1244" y="363" width="1" height="29" fill="#000"/>
<rect x="1242" y="370" width="5" height="12" fill="#000"/>
<rect x="1243" y="371" width="3" height="10" fill="#fff"/>
<rect x="1252" y="357" width="1" height="16" fill="#000"/>
<rect x="1250" y="360" width="5" height="10" fill="#000"/>
<rect x="1251" y="361" width="3" height="8" fill="#fff"/>
<rect x="1260" y="334" width="1" height="31" fill="#000"/>
<rect x="1258" y="346" width="5" height="9" fill="#000"/>
<rect x="1259" y="347" width="3" height="7" fill="#fff"/>
<rect x="1268" y="332" width="1" height="18" fill="#000"/>
<rect x="1266" y="345" width="5" height="3" fill="#000"/>
<rect x="1276" y="326" width="1" height="35" fill="#000"/>
<rect x="1274" y="344" width="5" height="13" fill="#000"/>
<rect x="1284" y="345" width="1" height="12" fill="#000"/>
<rect x="1282" y="348" width="5" height="9" fill="#000"/>
<rect x="1283" y="349" width="3" height="7" fill="#fff"/>
<rect x="1292" y="361" width="1" height="23" fill="#000"/>
<rect x="1290" y="373" width="5" height="6" fill="#000"/>
<rect x="1300" y="380" width="1" height="24" fill="#000"/>
<rect x="1298" y="381" width="5" height="17" fill="#000"/>
<rect x="1308" y="358" width="1" height="29" fill="#000"/>
<rect x="1306" y="358" width="5" height="26" fill="#000"/>
<rect x="1307" y="359" width="3" height="24" fill="#fff"/>
<rect x="1316" y="351" width="1" height="12" fill="#000"/>
<rect x="1314" y="354" width="5" height="5" fill="#000"/>
<rect x="1315" y="355" width="3" height="3" fill="#fff"/>
<rect x="1324" y="373" width="1" height="27" fill="#000"/>
<rect x="1322" y="373" width="5" height="25" fill="#000"/>
<rect x="1332" y="384" width="1" height="24" fill="#000"/>
<rect x="1330" y="385" width="5" height="14" fill="#000"/>
<rect x="1331" y="386" width="3" height="12" fill="#fff"/>
<rect x="1340" y="377" width="1" height="27" fill="#000"/>
<rect x="1338" y="384" width="5" height="5" fill="#000"/>
<rect x="1348" y="387" width="1" height="40" fill="#000"/>
<rect x="1346" y="389" width="5" height="26" fill="#000"/>
<rect x="1356" y="418" width="1" height="28" fill="#000"/>
<rect x="1354" y="426" width="5" height="6" fill="#000"/>
<rect x="1364" y="429" width="1" height="27" fill="#000"/>
<rect x="1362" y="431" width="5" height="20" fill="#000"/>
<rect x="1372" y="449" width="1" height="48" fill="#000"/>
<rect x="1370" y="455" width="5" height="42" fill="#000"/>
<rect x="1380" y="484" width="1" height="11" fill="#000"/>
<rect x="1378" y="484" width="5" height="11" fill="#000"/>
<rect x="1379" y="485" width="3" height="9" fill="#fff"/>
<rect x="1388" y="470" width="1" height="36" fill="#000"/>
<rect x="1386" y="477" width="5" height="7" fill="#000"/>
<rect x="1387" y="478" width="3" height="5" fill="#fff"/>
<rect x="1396" y="461" width="1" height="23" fill="#000"/>
<rect x="1394" y="465" width="5" height="13" fill="#000"/>
<rect x="1395" y="466" width="3" height="11" fill="#fff"/>
<rect x="1404" y="479" width="1" height="83" fill="#000"/>
<rect x="1402" y="484" width="5" height="70" fill="#000"/>
<rect x="1412" y="531" width="1" height="28" fill="#000"/>
<rect x="1410" y="536" width="5" height="14" fill="#000"/>
<rect x="1411" y="537" width="3" height="12" fill="#fff"/>
<rect x="1420" y="531" width="1" height="30" fill="#000"/>
<rect x="1418" y="542" width="5" height="5" fill="#000"/>
<rect x="1419" y="543" width="3" height="3" fill="#fff"/>
<rect x="1428" y="519" width="1" height="33" fill="#000"/>
<rect x="1426" y="531" width="5" height="11" fill="#000"/>
<rect x="1427" y="532" width="3" height="9" fill="#fff"/>
</g>
<rect x="1371" y="524" width="120" height="7" fill="#00ff00"/>
<g stroke="#ff0000" stroke-width="1" fill="none" shape-rendering="crispEdges">
<polyline points="0,237.5 7,237.5"/>
<polyline points="946.5,303.5 957,303.5"/>
<polyline points="1058.8,493.5 1069,493.5"/>
<polyline points="1266.6,325.5 1277,325.5"/>
<polyline points="1269,526.5 1279,526.5"/>
</g>
<rect x="7.5" y="228.5" width="60" height="17.5" fill="#fff" stroke="#ff0000" stroke-width="1"/><text x="37.5" y="243.5" font-size="16" fill="#ff0000" text-anchor="middle">27479.4</text>
<rect x="885.5" y="294.5" width="61" height="18" fill="#fff" stroke="#ff0000" stroke-width="1"/><text x="916.0" y="309.7" font-size="16" fill="#ff0000" text-anchor="middle">26718.2</text>
<rect x="997.5" y="484.5" width="61" height="18" fill="#fff" stroke="#ff0000" stroke-width="1"/><text x="1028.0" y="499.7" font-size="16" fill="#ff0000" text-anchor="middle">24551.7</text>
<rect x="1205.5" y="316.5" width="61" height="18" fill="#fff" stroke="#ff0000" stroke-width="1"/><text x="1236.0" y="331.7" font-size="16" fill="#ff0000" text-anchor="middle">26466.9</text>
<rect x="1279.5" y="515.5" width="73" height="23" fill="#fff" stroke="#ff0000" stroke-width="1"/><text x="1316.0" y="534.6" font-size="19.5" fill="#ff0000" text-anchor="middle">24173.9</text>
<rect x="1349.5" y="551.5" width="61" height="17.5" fill="#fff" stroke="#ff0000" stroke-width="1"/><text x="1380.0" y="566.5" font-size="16" fill="#ff0000" text-anchor="middle">23777.4</text>
<line x1="1304.2" y1="346.8" x2="1405.6" y2="552.2" stroke="#ff0000" stroke-width="3.5"/><polygon points="1411.8,564.8 1400.7,554.7 1410.5,549.8" fill="#ff0000"/>
<line x1="1411.0" y1="564.0" x2="1428.5" y2="538.6" stroke="#ff0000" stroke-width="3.8"/><polygon points="1433.6,531.2 1432.4,541.3 1424.5,535.9" fill="#ff0000"/>
<text x="1469.8" y="551.3" font-size="19.5" font-weight="500" fill="#1aff1a" font-family='"Liberation Serif","Noto Serif CJK SC",serif' letter-spacing="2.7">多空转折点</text>
<g shape-rendering="crispEdges" fill="#c0c0c0">
<rect x="4" y="636" width="1" height="43"/>
<rect x="12" y="636" width="1" height="40"/>
<rect x="20" y="636" width="1" height="37"/>
<rect x="28" y="636" width="1" height="33"/>
<rect x="36" y="636" width="1" height="24"/>
<rect x="44" y="636" width="1" height="18"/>
<rect x="52" y="636" width="1" height="13"/>
<rect x="60" y="636" width="1" height="12"/>
<rect x="68" y="636" width="1" height="9"/>
<rect x="76" y="636" width="1" height="7"/>
<rect x="84" y="636" width="1" height="5"/>
<rect x="92" y="636" width="1" height="3"/>
<rect x="100" y="635" width="1" height="1"/>
<rect x="108" y="626" width="1" height="10"/>
<rect x="116" y="617" width="1" height="19"/>
<rect x="124" y="610" width="1" height="26"/>
<rect x="132" y="606" width="1" height="30"/>
<rect x="140" y="603" width="1" height="33"/>
<rect x="148" y="599" width="1" height="37"/>
<rect x="156" y="599" width="1" height="37"/>
<rect x="164" y="600" width="1" height="36"/>
<rect x="172" y="602" width="1" height="34"/>
<rect x="180" y="600" width="1" height="36"/>
<rect x="188" y="597" width="1" height="39"/>
<rect x="196" y="597" width="1" height="39"/>
<rect x="204" y="598" width="1" height="38"/>
<rect x="212" y="600" width="1" height="36"/>
<rect x="220" y="606" width="1" height="30"/>
<rect x="228" y="610" width="1" height="26"/>
<rect x="236" y="614" width="1" height="22"/>
<rect x="244" y="620" width="1" height="16"/>
<rect x="252" y="624" width="1" height="12"/>
<rect x="260" y="628" width="1" height="8"/>
<rect x="268" y="631" width="1" height="5"/>
<rect x="276" y="633" width="1" height="3"/>
<rect x="284" y="635" width="1" height="1"/>
<rect x="292" y="635" width="1" height="1"/>
<rect x="300" y="636" width="1" height="1"/>
<rect x="308" y="636" width="1" height="1"/>
<rect x="316" y="636" width="1" height="1"/>
<rect x="324" y="636" width="1" height="3"/>
<rect x="332" y="636" width="1" height="5"/>
<rect x="340" y="636" width="1" height="8"/>
<rect x="348" y="636" width="1" height="12"/>
<rect x="356" y="636" width="1" height="14"/>
<rect x="364" y="636" width="1" height="15"/>
<rect x="372" y="636" width="1" height="12"/>
<rect x="380" y="636" width="1" height="9"/>
<rect x="388" y="636" width="1" height="11"/>
<rect x="396" y="636" width="1" height="13"/>
<rect x="404" y="636" width="1" height="13"/>
<rect x="412" y="636" width="1" height="18"/>
<rect x="420" y="636" width="1" height="14"/>
<rect x="428" y="636" width="1" height="9"/>
<rect x="436" y="636" width="1" height="4"/>
<rect x="444" y="636" width="1" height="1"/>
<rect x="452" y="632" width="1" height="4"/>
<rect x="460" y="626" width="1" height="10"/>
<rect x="468" y="622" width="1" height="14"/>
<rect x="476" y="621" width="1" height="15"/>
<rect x="484" y="622" width="1" height="14"/>
<rect x="492" y="624" width="1" height="12"/>
<rect x="500" y="627" width="1" height="9"/>
<rect x="508" y="636" width="1" height="1"/>
<rect x="516" y="636" width="1" height="7"/>
<rect x="524" y="636" width="1" height="13"/>
<rect x="532" y="636" width="1" height="19"/>
<rect x="540" y="636" width="1" height="25"/>
<rect x="548" y="636" width="1" height="30"/>
<rect x="556" y="636" width="1" height="34"/>
<rect x="564" y="636" width="1" height="36"/>
<rect x="572" y="636" width="1" height="44"/>
<rect x="580" y="636" width="1" height="55"/>
<rect x="588" y="636" width="1" height="59"/>
<rect x="596" y="636" width="1" height="63"/>
<rect x="604" y="636" width="1" height="61"/>
<rect x="612" y="636" width="1" height="59"/>
<rect x="620" y="636" width="1" height="50"/>
<rect x="628" y="636" width="1" height="44"/>
<rect x="636" y="636" width="1" height="40"/>
<rect x="644" y="636" width="1" height="38"/>
<rect x="652" y="636" width="1" height="29"/>
<rect x="660" y="636" width="1" height="24"/>
<rect x="668" y="636" width="1" height="19"/>
<rect x="676" y="636" width="1" height="15"/>
<rect x="684" y="636" width="1" height="19"/>
<rect x="692" y="636" width="1" height="23"/>
<rect x="700" y="636" width="1" height="30"/>
<rect x="708" y="636" width="1" height="34"/>
<rect x="716" y="636" width="1" height="39"/>
<rect x="724" y="636" width="1" height="40"/>
<rect x="732" y="636" width="1" height="33"/>
<rect x="740" y="636" width="1" height="29"/>
<rect x="748" y="636" width="1" height="29"/>
<rect x="756" y="636" width="1" height="33"/>
<rect x="764" y="636" width="1" height="40"/>
<rect x="772" y="636" width="1" height="55"/>
<rect x="780" y="636" width="1" height="66"/>
<rect x="788" y="636" width="1" height="88"/>
<rect x="796" y="636" width="1" height="104"/>
<rect x="804" y="636" width="1" height="112"/>
<rect x="812" y="636" width="1" height="106"/>
<rect x="820" y="636" width="1" height="99"/>
<rect x="828" y="636" width="1" height="98"/>
<rect x="836" y="636" width="1" height="95"/>
<rect x="844" y="636" width="1" height="87"/>
<rect x="852" y="636" width="1" height="80"/>
<rect x="860" y="636" width="1" height="77"/>
<rect x="868" y="636" width="1" height="71"/>
<rect x="876" y="636" width="1" height="59"/>
<rect x="884" y="636" width="1" height="52"/>
<rect x="892" y="636" width="1" height="47"/>
<rect x="900" y="636" width="1" height="44"/>
<rect x="908" y="636" width="1" height="41"/>
<rect x="916" y="636" width="1" height="40"/>
<rect x="924" y="636" width="1" height="33"/>
<rect x="932" y="636" width="1" height="30"/>
<rect x="940" y="636" width="1" height="28"/>
<rect x="948" y="636" width="1" height="22"/>
<rect x="956" y="636" width="1" height="16"/>
<rect x="964" y="636" width="1" height="11"/>
<rect x="972" y="636" width="1" height="8"/>
<rect x="980" y="636" width="1" height="8"/>
<rect x="988" y="636" width="1" height="8"/>
<rect x="996" y="636" width="1" height="9"/>
<rect x="1004" y="636" width="1" height="10"/>
<rect x="1012" y="636" width="1" height="13"/>
<rect x="1020" y="636" width="1" height="16"/>
<rect x="1028" y="636" width="1" height="23"/>
<rect x="1036" y="636" width="1" height="24"/>
<rect x="1044" y="636" width="1" height="28"/>
<rect x="1052" y="636" width="1" height="34"/>
<rect x="1060" y="636" width="1" height="43"/>
<rect x="1068" y="636" width="1" height="55"/>
<rect x="1076" y="636" width="1" height="62"/>
<rect x="1084" y="636" width="1" height="61"/>
<rect x="1092" y="636" width="1" height="61"/>
<rect x="1100" y="636" width="1" height="56"/>
<rect x="1108" y="636" width="1" height="50"/>
<rect x="1116" y="636" width="1" height="44"/>
<rect x="1124" y="636" width="1" height="38"/>
<rect x="1132" y="636" width="1" height="37"/>
<rect x="1140" y="636" width="1" height="35"/>
<rect x="1148" y="636" width="1" height="34"/>
<rect x="1156" y="636" width="1" height="34"/>
<rect x="1164" y="636" width="1" height="33"/>
<rect x="1172" y="636" width="1" height="33"/>
<rect x="1180" y="636" width="1" height="33"/>
<rect x="1188" y="636" width="1" height="26"/>
<rect x="1196" y="636" width="1" height="17"/>
<rect x="1204" y="636" width="1" height="10"/>
<rect x="1212" y="636" width="1" height="3"/>
<rect x="1220" y="635" width="1" height="1"/>
<rect x="1228" y="634" width="1" height="2"/>
<rect x="1236" y="631" width="1" height="5"/>
<rect x="1244" y="629" width="1" height="7"/>
<rect x="1252" y="625" width="1" height="11"/>
<rect x="1260" y="619" width="1" height="17"/>
<rect x="1268" y="617" width="1" height="19"/>
<rect x="1276" y="616" width="1" height="20"/>
<rect x="1284" y="614" width="1" height="22"/>
<rect x="1292" y="618" width="1" height="18"/>
<rect x="1300" y="624" width="1" height="12"/>
<rect x="1308" y="622" width="1" height="14"/>
<rect x="1316" y="619" width="1" height="17"/>
<rect x="1324" y="624" width="1" height="12"/>
<rect x="1332" y="628" width="1" height="8"/>
<rect x="1340" y="632" width="1" height="4"/>
<rect x="1348" y="636" width="1" height="1"/>
<rect x="1356" y="636" width="1" height="9"/>
<rect x="1364" y="636" width="1" height="17"/>
<rect x="1372" y="636" width="1" height="31"/>
<rect x="1380" y="636" width="1" height="38"/>
<rect x="1388" y="636" width="1" height="48"/>
<rect x="1396" y="636" width="1" height="52"/>
<rect x="1404" y="636" width="1" height="63"/>
<rect x="1412" y="636" width="1" height="70"/>
<rect x="1420" y="636" width="1" height="77"/>
<rect x="1428" y="636" width="1" height="80"/>
</g>
<polyline points="1.7,666.0 10.0,670.5 20.0,672.8 33.5,673.0 47.0,670.5 60.0,666.4 73.7,659.4 87.0,652.0 100.5,645.3 114.0,638.6 127.3,632.0 140.8,623.5 154.0,615.8 167.6,608.5 181.0,602.8 194.4,600.0 207.8,599.0 221.0,599.0 234.6,601.8 251.0,605.0 264.7,611.8 278.0,618.5 291.6,624.5 305.0,629.2 318.4,632.6 331.8,636.3 348.5,638.0 365.3,643.0 382.0,645.3 398.8,647.7 415.5,649.0 432.3,648.7 452.4,646.0 469.0,639.3 482.6,633.6 496.0,628.6 509.4,625.9 522.8,628.6 536.2,634.6 549.6,642.6 560.0,650.3 573.4,659.4 586.8,670.5 600.0,678.8 613.6,685.5 627.0,688.9 640.4,688.9 657.0,684.5 670.6,675.5 684.0,668.8 697.4,663.8 710.8,662.0 720.9,663.0 734.3,665.8 751.0,667.0 764.4,671.0 777.8,676.0 791.2,684.5 804.6,699.0 818.0,713.0 831.4,724.0 844.8,731.8 854.9,733.0 865.0,730.8 878.4,720.7 891.8,710.7 905.2,700.6 918.6,692.2 932.0,683.2 945.4,675.5 962.0,667.0 978.9,658.7 995.7,652.0 1012.4,648.0 1029.2,648.0 1042.6,652.0 1056.0,657.0 1069.4,664.8 1082.8,673.8 1096.2,682.2 1109.6,686.5 1123.0,688.9 1140.5,686.4 1154.0,680.6 1174.6,673.8 1195.0,668.7 1215.6,659.5 1236.0,648.0 1256.6,637.0 1270.0,628.7 1284.0,622.6 1297.6,620.0 1314.7,619.0 1331.7,619.8 1345.4,621.9 1359.0,628.7 1372.7,637.0 1386.4,647.5 1400.0,658.4 1413.7,672.0 1425.0,685.0" fill="none" stroke="#ff0000" stroke-width="1" stroke-dasharray="2,2" shape-rendering="crispEdges"/>
<line x1="1310.6" y1="610.6" x2="1413.4" y2="705.9" stroke="#ff0000" stroke-width="3"/><polygon points="1420.0,712.0 1410.3,709.2 1416.5,702.6" fill="#ff0000"/>
<line x1="1417.0" y1="711.0" x2="1434.2" y2="714.6" stroke="#ff0000" stroke-width="3"/><polygon points="1443.0,716.5 1433.3,719.0 1435.1,710.2" fill="#ff0000"/>
<g stroke="#c0c0c0" stroke-width="1" stroke-dasharray="3.1,3.1" shape-rendering="crispEdges">
<line x1="0" y1="795.5" x2="1654" y2="795.5"/>
<line x1="0" y1="846.5" x2="1654" y2="846.5"/>
<line x1="0" y1="907.5" x2="1654" y2="907.5"/>
</g>
<polyline points="0.0,869.0 4.0,862.2 12.0,858.9 20.0,854.9 28.0,851.2 36.0,838.0 44.0,838.0 52.0,845.5 60.0,845.5 68.0,846.5 76.0,843.0 84.0,847.0 92.0,842.8 100.0,827.0 108.0,822.0 116.0,817.0 124.0,815.3 132.0,824.4 140.0,822.0 148.0,818.0 156.0,828.7 164.0,835.4 172.0,832.0 180.0,825.4 188.0,819.3 196.0,827.7 204.0,831.0 212.0,834.8 220.0,844.0 228.0,842.0 236.0,847.0 244.0,854.9 252.0,849.5 260.0,854.9 268.0,851.2 276.0,851.2 284.0,849.8 292.0,846.2 300.0,854.9 308.0,844.8 316.0,844.5 324.0,858.2 332.0,860.6 340.0,860.6 348.0,866.3 356.0,862.2 364.0,861.2 372.0,846.2 380.0,841.5 388.0,860.9 396.0,857.2 404.0,858.2 412.0,867.3 420.0,843.8 428.0,840.5 436.0,837.0 444.0,836.0 452.0,826.4 460.0,824.4 468.0,824.4 476.0,836.4 484.0,841.0 492.0,841.5 500.0,851.5 508.0,869.6 516.0,871.3 524.0,872.3 532.0,873.3 540.0,880.0 548.0,876.3 556.0,879.0 564.0,875.0 572.0,890.0 580.0,895.0 588.0,885.0 596.0,885.0 604.0,872.3 612.0,869.6 620.0,848.2 628.0,852.2 636.0,857.2 644.0,854.9 652.0,841.5 660.0,846.2 668.0,843.0 676.0,846.2 684.0,864.0 692.0,865.6 700.0,873.3 708.0,870.0 716.0,873.3 724.0,867.3 732.0,848.2 740.0,848.2 748.0,857.2 756.0,862.2 764.0,880.0 772.0,885.7 780.0,888.4 788.0,899.0 796.0,899.0 804.0,887.4 812.0,865.0 820.0,861.2 828.0,869.6 836.0,864.0 844.0,858.2 852.0,858.2 860.0,862.2 868.0,858.2 876.0,846.2 884.0,850.5 892.0,852.2 900.0,856.2 908.0,854.9 916.0,856.2 924.0,848.2 932.0,852.2 940.0,851.2 948.0,843.8 956.0,842.0 964.0,842.0 972.0,842.0 980.0,848.8 988.0,853.9 996.0,850.5 1004.0,855.5 1012.0,858.9 1020.0,862.2 1028.0,872.3 1036.0,863.2 1044.0,866.6 1052.0,877.3 1060.0,880.7 1068.0,890.0 1076.0,886.4 1084.0,864.6 1092.0,869.6 1100.0,854.9 1108.0,851.5 1116.0,851.5 1124.0,848.8 1132.0,859.2 1140.0,856.4 1148.0,855.0 1156.0,860.9 1164.0,857.5 1172.0,854.0 1180.0,864.3 1188.0,842.8 1196.0,837.6 1204.0,837.0 1212.0,835.3 1220.0,834.2 1228.0,839.7 1236.0,841.4 1244.0,838.0 1252.0,834.2 1260.0,828.4 1268.0,828.4 1276.0,834.6 1284.0,831.2 1292.0,847.2 1300.0,855.0 1308.0,838.0 1316.0,837.6 1324.0,854.0 1332.0,848.9 1340.0,850.6 1348.0,860.9 1356.0,865.0 1364.0,871.0 1372.0,881.4 1380.0,876.2 1388.0,871.0 1396.0,867.0 1404.0,885.5 1412.0,882.0 1420.0,878.6 1428.0,874.5" fill="none" stroke="#1e90ff" stroke-width="1.1"/>
<line x1="1280.5" y1="836.0" x2="1419.6" y2="882.5" stroke="#ff0000" stroke-width="3"/><polygon points="1430.0,886.0 1418.0,887.3 1421.2,877.8" fill="#ff0000"/>
<g shape-rendering="crispEdges" fill="#000">
<rect x="0" y="32" width="1655" height="1"/>
<rect x="0" y="585" width="1655" height="1"/>
<rect x="0" y="587" width="1655" height="1"/>
<rect x="0" y="757" width="1655" height="1"/>
<rect x="0" y="759" width="1655" height="1"/>
<rect x="0" y="933" width="1655" height="1"/>
<rect x="1654" y="32" width="1" height="554"/>
<rect x="1654" y="587" width="1" height="171"/>
<rect x="1654" y="759" width="1" height="175"/>
<rect x="1700" y="30" width="1" height="922" fill="#dcdcdc"/>
</g>
<g font-size="9" fill="#000" stroke="#000" stroke-width="0.18">
<rect x="1655" y="54" width="2" height="1" fill="#000" shape-rendering="crispEdges"/>
<text x="1660" y="57.3">29564.0</text>
<rect x="1655" y="87" width="2" height="1" fill="#000" shape-rendering="crispEdges"/>
<text x="1660" y="90.3">29190.0</text>
<rect x="1655" y="120" width="2" height="1" fill="#000" shape-rendering="crispEdges"/>
<text x="1660" y="123.3">28805.0</text>
<rect x="1655" y="153" width="2" height="1" fill="#000" shape-rendering="crispEdges"/>
<text x="1660" y="156.3">28431.0</text>
<rect x="1655" y="186" width="2" height="1" fill="#000" shape-rendering="crispEdges"/>
<text x="1660" y="189.3">28057.0</text>
<rect x="1655" y="219" width="2" height="1" fill="#000" shape-rendering="crispEdges"/>
<text x="1660" y="222.3">27683.0</text>
<rect x="1655" y="252" width="2" height="1" fill="#000" shape-rendering="crispEdges"/>
<text x="1660" y="255.3">27298.0</text>
<rect x="1655" y="285" width="2" height="1" fill="#000" shape-rendering="crispEdges"/>
<text x="1660" y="288.3">26924.0</text>
<rect x="1655" y="318" width="2" height="1" fill="#000" shape-rendering="crispEdges"/>
<text x="1660" y="321.3">26550.0</text>
<rect x="1655" y="351" width="2" height="1" fill="#000" shape-rendering="crispEdges"/>
<text x="1660" y="354.3">26176.0</text>
<rect x="1655" y="384" width="2" height="1" fill="#000" shape-rendering="crispEdges"/>
<text x="1660" y="387.3">25791.0</text>
<rect x="1655" y="417" width="2" height="1" fill="#000" shape-rendering="crispEdges"/>
<text x="1660" y="420.3">25417.0</text>
<rect x="1655" y="450" width="2" height="1" fill="#000" shape-rendering="crispEdges"/>
<text x="1660" y="453.3">25043.0</text>
<rect x="1655" y="483" width="2" height="1" fill="#000" shape-rendering="crispEdges"/>
<text x="1660" y="486.3">24658.0</text>
<rect x="1655" y="516" width="2" height="1" fill="#000" shape-rendering="crispEdges"/>
<text x="1660" y="519.3">24284.0</text>
<rect x="1655" y="549" width="2" height="1" fill="#000" shape-rendering="crispEdges"/>
<text x="1660" y="552.3">23910.0</text>
<rect x="1655" y="582" width="2" height="1" fill="#000" shape-rendering="crispEdges"/>
<text x="1660" y="585.3">23536.0</text>
<rect x="1655" y="589" width="2" height="1" fill="#000" shape-rendering="crispEdges"/>
<text x="1658.5" y="597.8">275.75</text>
<rect x="1655" y="636" width="2" height="1" fill="#000" shape-rendering="crispEdges"/>
<text x="1658.5" y="639.5999999999999">0.00</text>
<rect x="1655" y="756" width="2" height="1" fill="#000" shape-rendering="crispEdges"/>
<text x="1658.5" y="753.8">-698.77</text>
<rect x="1655" y="761" width="2" height="1" fill="#000" shape-rendering="crispEdges"/>
<text x="1658.5" y="769.8">100</text>
<rect x="1655" y="795" width="2" height="1" fill="#000" shape-rendering="crispEdges"/>
<text x="1658.5" y="798.8">80</text>
<rect x="1655" y="846" width="2" height="1" fill="#000" shape-rendering="crispEdges"/>
<text x="1658.5" y="849.8">50</text>
<rect x="1655" y="907" width="2" height="1" fill="#000" shape-rendering="crispEdges"/>
<text x="1658.5" y="910.8">15</text>
<text x="1658.5" y="929.9">0</text>
</g>
<rect x="1656" y="472" width="41" height="11" fill="#ff0000" shape-rendering="crispEdges"/>
<text x="1660" y="480.8" font-size="9" fill="#fff">24724.1</text>
<rect x="1656" y="497" width="41" height="11" fill="#ff0000" shape-rendering="crispEdges"/>
<text x="1660" y="505.8" font-size="9" fill="#fff">24430.7</text>
<rect x="1656" y="520" width="41" height="11" fill="#32cd32" shape-rendering="crispEdges"/>
<rect x="1656" y="531" width="41" height="1" fill="#000" shape-rendering="crispEdges"/>
<text x="1660" y="528.8" font-size="9" fill="#fff">24173.9</text>
<rect x="1656" y="550" width="41" height="11" fill="#0000ff" shape-rendering="crispEdges"/>
<text x="1660" y="558.8" font-size="9" fill="#fff">23823.9</text>
<rect x="1656" y="570" width="41" height="11" fill="#0000ff" shape-rendering="crispEdges"/>
<text x="1660" y="578.8" font-size="9" fill="#fff">23599.4</text>
<g font-size="9.3" fill="#000" stroke="#000" stroke-width="0.18">
<text x="0.5" y="946">3 May 2021</text>
<rect x="60" y="934" width="1" height="3" fill="#000" shape-rendering="crispEdges"/>
<text x="60" y="946">20 May 05:00</text>
<rect x="124" y="934" width="1" height="3" fill="#000" shape-rendering="crispEdges"/>
<text x="124" y="946">26 May 05:00</text>
<rect x="188" y="934" width="1" height="3" fill="#000" shape-rendering="crispEdges"/>
<text x="188" y="946">1 Jun 05:00</text>
<rect x="252" y="934" width="1" height="3" fill="#000" shape-rendering="crispEdges"/>
<text x="252" y="946">7 Jun 05:00</text>
<rect x="316" y="934" width="1" height="3" fill="#000" shape-rendering="crispEdges"/>
<text x="316" y="946">11 Jun 05:00</text>
<rect x="380" y="934" width="1" height="3" fill="#000" shape-rendering="crispEdges"/>
<text x="380" y="946">18 Jun 05:00</text>
<rect x="444" y="934" width="1" height="3" fill="#000" shape-rendering="crispEdges"/>
<text x="444" y="946">24 Jun 05:00</text>
<rect x="508" y="934" width="1" height="3" fill="#000" shape-rendering="crispEdges"/>
<text x="508" y="946">2 Jul 01:15</text>
<rect x="572" y="934" width="1" height="3" fill="#000" shape-rendering="crispEdges"/>
<text x="572" y="946">8 Jul 01:15</text>
<rect x="636" y="934" width="1" height="3" fill="#000" shape-rendering="crispEdges"/>
<text x="636" y="946">14 Jul 01:15</text>
<rect x="700" y="934" width="1" height="3" fill="#000" shape-rendering="crispEdges"/>
<text x="700" y="946">20 Jul 01:15</text>
<rect x="764" y="934" width="1" height="3" fill="#000" shape-rendering="crispEdges"/>
<text x="764" y="946">26 Jul 01:15</text>
<rect x="828" y="934" width="1" height="3" fill="#000" shape-rendering="crispEdges"/>
<text x="828" y="946">30 Jul 01:15</text>
<rect x="892" y="934" width="1" height="3" fill="#000" shape-rendering="crispEdges"/>
<text x="892" y="946">5 Aug 01:15</text>
<rect x="956" y="934" width="1" height="3" fill="#000" shape-rendering="crispEdges"/>
<text x="956" y="946">11 Aug 01:15</text>
<rect x="1020" y="934" width="1" height="3" fill="#000" shape-rendering="crispEdges"/>
<text x="1020" y="946">17 Aug 01:15</text>
<rect x="1084" y="934" width="1" height="3" fill="#000" shape-rendering="crispEdges"/>
<text x="1084" y="946">23 Aug 01:15</text>
<rect x="1148" y="934" width="1" height="3" fill="#000" shape-rendering="crispEdges"/>
<text x="1148" y="946">27 Aug 01:15</text>
<rect x="1212" y="934" width="1" height="3" fill="#000" shape-rendering="crispEdges"/>
<text x="1212" y="946">2 Sep 01:15</text>
<rect x="1276" y="934" width="1" height="3" fill="#000" shape-rendering="crispEdges"/>
<text x="1276" y="946">8 Sep 01:15</text>
<rect x="1340" y="934" width="1" height="3" fill="#000" shape-rendering="crispEdges"/>
<text x="1340" y="946">14 Sep 01:15</text>
<rect x="1404" y="934" width="1" height="3" fill="#000" shape-rendering="crispEdges"/>
<text x="1404" y="946">20 Sep 01:15</text>
</g>
<g font-size="9.3" fill="#000" stroke="#000" stroke-width="0.18">
<polygon points="0,43.2 6.2,43.2 3.1,39" fill="#000"/>
<text x="11" y="43.8" xml:space="preserve" style="white-space:pre">HK50-,H4  23988.0 24253.0 23881.0 24174.0</text>
<text x="0.5" y="600">MACD(12,26,9) -449.89 -300.67</text>
<text x="0.5" y="772">RSI(14) 34.0612</text>
</g>
<polygon points="1432.8,33 1442.2,33 1437.5,38.2" fill="#c0c0c0"/>
</svg>
<svg width="1701" height="32" viewBox="0 0 1701 32" style="position:absolute;left:0;top:0" font-family='"Liberation Sans","Noto Sans CJK SC",sans-serif'>
<defs><linearGradient id="gy" x1="0" y1="0" x2="1" y2="1"><stop offset="0" stop-color="#ffe27a"/><stop offset="1" stop-color="#c8901a"/></linearGradient><linearGradient id="gb" x1="0" y1="0" x2="0" y2="1"><stop offset="0" stop-color="#eaf4ff"/><stop offset="1" stop-color="#9cc4f0"/></linearGradient><linearGradient id="gg" x1="0" y1="0" x2="0" y2="1"><stop offset="0" stop-color="#30f848"/><stop offset="1" stop-color="#00b814"/></linearGradient><linearGradient id="gr" x1="0" y1="0" x2="0" y2="1"><stop offset="0" stop-color="#f0603a"/><stop offset="1" stop-color="#d01818"/></linearGradient><linearGradient id="gbl" x1="0" y1="0" x2="0" y2="1"><stop offset="0" stop-color="#4a8ef0"/><stop offset="1" stop-color="#1450b8"/></linearGradient></defs>
<rect x="0" y="0" width="1701" height="28" fill="#f0f0f0"/>
<rect x="0" y="1" width="1701" height="1" fill="#b4b4b4"/>
<rect x="0" y="2" width="1701" height="1" fill="#fbfbfb"/>
<rect x="0" y="27" width="1701" height="1" fill="#f8f8f8"/>
<rect x="0" y="28" width="1701" height="1" fill="#a0a0a0"/>
<rect x="0" y="29" width="1701" height="1" fill="#6a6a6a"/>
<rect x="0" y="30" width="1701" height="2" fill="#fff"/>
<rect x="1700" y="29" width="1" height="3" fill="#d0d8e4"/>
<line x1="1.5" y1="18.5" x2="6.5" y2="23.5" stroke="#b08818" stroke-width="3.4" stroke-linecap="round"/>
<line x1="1.5" y1="18.5" x2="6.5" y2="23.5" stroke="#f0d050" stroke-width="1.6" stroke-linecap="round"/>
<circle cx="-2" cy="15" r="5.2" fill="#d8ecff" stroke="#4a86d8" stroke-width="1.5"/>
<rect x="15" y="4" width="1" height="22" fill="#a0a0a0"/><rect x="16" y="4" width="1" height="22" fill="#fff"/>
<path d="M25.5,8.5h8l3,3v9.5h-11z" fill="#fff" stroke="#686868" stroke-width="0.9"/><path d="M33.5,8.5v3h3" fill="#e8e8e8" stroke="#686868" stroke-width="0.7"/>
<path d="M27.5,11h4M27.5,13.5h6M27.5,16h6" stroke="#909090" stroke-width="1"/>
<path d="M29.6,18.5h4v-4h3.4v4h4v3.4h-4v4h-3.4v-4h-4z" fill="url(#gg)" stroke="#109418" stroke-width="0.7"/>
<text x="44" y="19" font-size="12" fill="#000">新订单</text>
<defs><radialGradient id="gbk" cx="0.35" cy="0.35" r="0.75"><stop offset="0" stop-color="#fff070"/><stop offset="0.55" stop-color="#f2c21a"/><stop offset="1" stop-color="#c88a10"/></radialGradient><linearGradient id="gcl" x1="0" y1="0" x2="0" y2="1"><stop offset="0" stop-color="#ffffff"/><stop offset="1" stop-color="#c4d6f0"/></linearGradient><linearGradient id="gcone" x1="0" y1="0" x2="1" y2="0"><stop offset="0" stop-color="#ffd83a"/><stop offset="0.5" stop-color="#fff08a"/><stop offset="1" stop-color="#e8b020"/></linearGradient></defs>
<path d="M92.2,17.7 L100.2,23.3 L107.9,16.7 L108.1,18.2 L100.2,24.8 L92.1,19z" fill="#9c6a14"/>
<path d="M97.7,9.2 Q98.6,10.6 107.9,16.7 L100.2,23.3 L92.2,17.7 Q96.6,12.4 97.7,9.2z" fill="url(#gbk)" stroke="#b47c12" stroke-width="0.8"/>
<path d="M93.3,18.9 L100.2,23.9 L107.2,17.9" fill="none" stroke="#e8c878" stroke-width="0.5"/>
<path d="M122,9.3 L125.6,8.2 L133,8.8 V17 H122z" fill="#2a8ef6"/>
<path d="M122,9.3 L125.6,8.2 L133,8.8 L129.6,10.1 L125.6,10z" fill="#7cc2ff"/>
<rect x="126" y="10.4" width="6.6" height="6" fill="#58acff"/>
<path d="M127.2,12 H131.8 M127.2,13.8 H131.8" stroke="#f0f8ff" stroke-width="0.9"/>
<path d="M123.4,23.5 a2.9,2.9 0 0 1 -0.6,-5.7 a3.1,3.1 0 0 1 3.6,-1.9 a3.6,3.6 0 0 1 6,0.9 a2.8,2.8 0 0 1 2.6,3.4 a2.2,2.2 0 0 1 -1.4,3.3z" fill="url(#gcl)" stroke="#5878b8" stroke-width="0.9"/>
<circle cx="156.2" cy="15.6" r="7.6" fill="none" stroke="#b4c8ec" stroke-width="1"/>
<circle cx="156.2" cy="15.6" r="4.6" fill="none" stroke="#3c6cd8" stroke-width="1.3"/>
<path d="M156.2,15.6 V23.8 A8.2,8.2 0 0 0 160.3,8.5z" fill="#84c884" fill-opacity="0.8"/>
<path d="M160.8,15.6 A4.6,4.6 0 0 0 158.5,11.6 M163.8,15.6 A7.6,7.6 0 0 0 160,9" fill="none" stroke="#6aa87a" stroke-width="0.9"/>
<circle cx="156.2" cy="15.4" r="1.7" fill="#2454d4"/>
<path d="M156.5,16.6 V24" stroke="#18a018" stroke-width="1.5"/>
<path d="M175.8,14.3 L190.6,14.3 L183.4,23.9z" fill="url(#gcone)" stroke="#d8a820" stroke-width="0.5"/>
<ellipse cx="183.2" cy="12.9" rx="7.9" ry="2.7" fill="#3f9bd3" stroke="#2c7cb4" stroke-width="0.6"/>
<ellipse cx="182.9" cy="10.8" rx="4.3" ry="2.7" fill="#66b6e4" stroke="#3a8cc4" stroke-width="0.5"/>
<circle cx="187.6" cy="19.8" r="3.9" fill="#dc1c0c"/>
<rect x="186.3" y="18.5" width="2.6" height="2.6" fill="#fff"/>
<text x="196.5" y="19" font-size="12" fill="#000">自动交易</text>
<rect x="251" y="4" width="1" height="22" fill="#a0a0a0"/><rect x="252" y="4" width="1" height="22" fill="#fff"/>
<rect x="255" y="5" width="3" height="1" fill="#a8a8a8"/>
<rect x="255" y="7" width="3" height="1" fill="#a8a8a8"/>
<rect x="255" y="9" width="3" height="1" fill="#a8a8a8"/>
<rect x="255" y="11" width="3" height="1" fill="#a8a8a8"/>
<rect x="255" y="13" width="3" height="1" fill="#a8a8a8"/>
<rect x="255" y="15" width="3" height="1" fill="#a8a8a8"/>
<rect x="255" y="17" width="3" height="1" fill="#a8a8a8"/>
<rect x="255" y="19" width="3" height="1" fill="#a8a8a8"/>
<rect x="255" y="21" width="3" height="1" fill="#a8a8a8"/>
<rect x="255" y="23" width="3" height="1" fill="#a8a8a8"/>
<path d="M269.5,10 V24 M266,21.5 H280" stroke="#555" stroke-width="1" fill="none"/>
<path d="M267.5,12.5 L269.5,9.5 L271.5,12.5 M277.5,19.5 L280.5,21.5 L277.5,23.5" stroke="#555" stroke-width="1" fill="none"/>
<path d="M276.5,10 V20 M273,18.5 H276.5 M276.5,11.5 H280" stroke="#10a010" stroke-width="1.3" fill="none"/>
<rect x="289" y="4" width="25" height="22" fill="#f8f8f8"/><rect x="289" y="4" width="25" height="1" fill="#c0c0c0"/><rect x="289" y="4" width="1" height="22" fill="#c0c0c0"/><rect x="289" y="25" width="25" height="1" fill="#fff"/><rect x="313" y="4" width="1" height="22" fill="#fff"/>
<path d="M297.5,10 V24 M294,21.5 H308" stroke="#555" stroke-width="1" fill="none"/>
<path d="M295.5,12.5 L297.5,9.5 L299.5,12.5 M305.5,19.5 L308.5,21.5 L305.5,23.5" stroke="#555" stroke-width="1" fill="none"/>
<path d="M304,8 V21" stroke="#000" stroke-width="1"/><rect x="302" y="10.5" width="4" height="8" fill="#20c020" stroke="#0a700a" stroke-width="0.8"/>
<path d="M325.5,10 V24 M322,21.5 H336" stroke="#555" stroke-width="1" fill="none"/>
<path d="M323.5,12.5 L325.5,9.5 L327.5,12.5 M333.5,19.5 L336.5,21.5 L333.5,23.5" stroke="#555" stroke-width="1" fill="none"/>
<path d="M325.5,19 C328,13 331,11 333,14 L336,17" stroke="#10a010" stroke-width="1.2" fill="none"/>
<rect x="346" y="4" width="1" height="22" fill="#a0a0a0"/><rect x="347" y="4" width="1" height="22" fill="#fff"/>
<line x1="364.1" y1="17.5" x2="369.1" y2="22.5" stroke="#b08818" stroke-width="3.4" stroke-linecap="round"/>
<line x1="364.1" y1="17.5" x2="369.1" y2="22.5" stroke="#f0d050" stroke-width="1.6" stroke-linecap="round"/>
<circle cx="360.6" cy="14" r="5.2" fill="#d8ecff" stroke="#4a86d8" stroke-width="1.5"/>
<path d="M357.6,14h6M360.6,11v6" stroke="#2a64c0" stroke-width="1.8"/>
<line x1="392.3" y1="17.5" x2="397.3" y2="22.5" stroke="#b08818" stroke-width="3.4" stroke-linecap="round"/>
<line x1="392.3" y1="17.5" x2="397.3" y2="22.5" stroke="#f0d050" stroke-width="1.6" stroke-linecap="round"/>
<circle cx="388.8" cy="14" r="5.2" fill="#d8ecff" stroke="#4a86d8" stroke-width="1.5"/>
<path d="M385.8,14h6" stroke="#2a64c0" stroke-width="1.8"/>
<rect x="411" y="8.5" width="7.5" height="7.5" fill="#58b028"/><rect x="419" y="8.5" width="7.5" height="7.5" fill="#2060d0"/><rect x="411" y="16.5" width="7.5" height="7.5" fill="#2060d0"/><rect x="419" y="16.5" width="7.5" height="7.5" fill="#58b028"/>
<path d="M412.5,12.5h4.5v2.5h-4.5z M420.5,12.5h4.5v2.5h-4.5z M412.5,20.5h4.5v2.5h-4.5z M420.5,20.5h4.5v2.5h-4.5z" fill="#eef6ff"/>
<rect x="436" y="4" width="1" height="22" fill="#a0a0a0"/><rect x="437" y="4" width="1" height="22" fill="#fff"/>
<rect x="440" y="4" width="26" height="22" fill="#f8f8f8"/><rect x="440" y="4" width="26" height="1" fill="#c0c0c0"/><rect x="440" y="4" width="1" height="22" fill="#c0c0c0"/><rect x="440" y="25" width="26" height="1" fill="#fff"/><rect x="465" y="4" width="1" height="22" fill="#fff"/>
<path d="M449.5,10 V24 M446,21.5 H460" stroke="#555" stroke-width="1" fill="none"/>
<path d="M447.5,12.5 L449.5,9.5 L451.5,12.5 M457.5,19.5 L460.5,21.5 L457.5,23.5" stroke="#555" stroke-width="1" fill="none"/>
<polygon points="454,12.5 458.5,15.5 454,18.5" fill="#30c030" stroke="#10a010" stroke-width="1"/>
<rect x="469" y="4" width="26" height="22" fill="#f8f8f8"/><rect x="469" y="4" width="26" height="1" fill="#c0c0c0"/><rect x="469" y="4" width="1" height="22" fill="#c0c0c0"/><rect x="469" y="25" width="26" height="1" fill="#fff"/><rect x="494" y="4" width="1" height="22" fill="#fff"/>
<path d="M477.5,10 V24 M474,21.5 H488" stroke="#555" stroke-width="1" fill="none"/>
<path d="M475.5,12.5 L477.5,9.5 L479.5,12.5 M485.5,19.5 L488.5,21.5 L485.5,23.5" stroke="#555" stroke-width="1" fill="none"/>
<path d="M483.5,10 V21" stroke="#1050c0" stroke-width="1.2"/><path d="M489,15.5 H485 M487,13.5 L485,15.5 L487,17.5" stroke="#d03010" stroke-width="1.2" fill="none"/>
<rect x="498" y="4" width="1" height="22" fill="#a0a0a0"/><rect x="499" y="4" width="1" height="22" fill="#fff"/>
<path d="M508.6,8.8h6.5l3.4,3.4v9.3h-9.9z" fill="#fff" stroke="#606060" stroke-width="0.9"/><path d="M515.1,8.8v3.4h3.4" fill="#e8e8e8" stroke="#606060" stroke-width="0.7"/>
<path d="M514,12 q-1.8,-0.5 -1.8,2 v4.5 M510.8,15 h3" stroke="#606060" stroke-width="0.9" fill="none"/>
<path d="M512.5,18.5h4v-4h3.4v4h4v3.4h-4v4h-3.4v-4h-4z" fill="url(#gg)" stroke="#109418" stroke-width="0.7"/>
<polygon points="530.0,15 535.0,15 532.5,18" fill="#000"/>
<circle cx="554" cy="16" r="7.6" fill="url(#gbl)" stroke="#0c3c98" stroke-width="0.8"/>
<circle cx="554" cy="16" r="5.4" fill="#f8fbff"/>
<circle cx="554" cy="16" r="4.3" fill="none" stroke="#9aa4b4" stroke-width="0.9" stroke-dasharray="0.7,1.55"/>
<path d="M554,12.6 V16.2 H556.6" stroke="#333" stroke-width="1.1" fill="none"/>
<polygon points="569.0,15 574.0,15 571.5,18" fill="#000"/>
<rect x="585.5" y="9.5" width="15" height="13" fill="#f4f8ff" stroke="#3a78d0" stroke-width="1.2"/>
<rect x="585.5" y="9.5" width="15" height="2" fill="#3a78d0"/>
<path d="M586,17 H600" stroke="#3a78d0" stroke-width="0.9"/>
<path d="M588,15 l2.6,-1.2 l2.6,0.4 l2.6,-1.6 l2.8,0.5" stroke="#b02414" stroke-width="1.3" fill="none"/>
<path d="M588.5,20.6 l2.6,-1 l2.4,0.7 l2.6,-2.2 l2.6,2" stroke="#189028" stroke-width="1.3" fill="none"/>
<polygon points="608.0,15 613.0,15 610.5,18" fill="#000"/>
<rect x="619" y="4" width="1" height="22" fill="#a0a0a0"/><rect x="620" y="4" width="1" height="22" fill="#fff"/>
<rect x="623" y="5" width="3" height="1" fill="#a8a8a8"/>
<rect x="623" y="7" width="3" height="1" fill="#a8a8a8"/>
<rect x="623" y="9" width="3" height="1" fill="#a8a8a8"/>
<rect x="623" y="11" width="3" height="1" fill="#a8a8a8"/>
<rect x="623" y="13" width="3" height="1" fill="#a8a8a8"/>
<rect x="623" y="15" width="3" height="1" fill="#a8a8a8"/>
<rect x="623" y="17" width="3" height="1" fill="#a8a8a8"/>
<rect x="623" y="19" width="3" height="1" fill="#a8a8a8"/>
<rect x="623" y="21" width="3" height="1" fill="#a8a8a8"/>
<rect x="623" y="23" width="3" height="1" fill="#a8a8a8"/>
<rect x="630" y="4" width="25" height="22" fill="#f8f8f8"/><rect x="630" y="4" width="25" height="1" fill="#c0c0c0"/><rect x="630" y="4" width="1" height="22" fill="#c0c0c0"/><rect x="630" y="25" width="25" height="1" fill="#fff"/><rect x="654" y="4" width="1" height="22" fill="#fff"/>
<path d="M637.5,9 V21 L640.3,18.4 L642.4,23 L644.2,22.2 L642.1,17.8 L645.8,17.5z" fill="#444"/>
<path d="M669.5,9.5 V14 M669.5,17 V22 M662,15.5 H667.5 M671.5,15.5 H677" stroke="#444" stroke-width="1"/>
<rect x="686" y="4" width="1" height="22" fill="#a0a0a0"/><rect x="687" y="4" width="1" height="22" fill="#fff"/>
<path d="M703.5,10 V22" stroke="#444" stroke-width="1.1"/>
<path d="M725.5,16.5 H738" stroke="#444" stroke-width="1"/>
<path d="M753.5,22 L766,10.5" stroke="#444" stroke-width="1.1"/>
<path d="M780,20 L793,11 M781,23 L794,14 M783.5,22 V15 M787,20 V11.5 M791,17 V8.5" stroke="#444" stroke-width="0.9"/>
<text x="791" y="24.5" font-size="6.5" font-weight="bold" fill="#333">E</text>
<path d="M809,9.5 H822 M809,12.5 H822 M809,16 H822 M809,20.5 H818" stroke="#555" stroke-width="0.9" stroke-dasharray="1,1"/>
<text x="819" y="24.5" font-size="6.5" font-weight="bold" fill="#333">F</text>
<text x="839" y="20.8" font-size="12.5" font-weight="bold" fill="#555">A</text>
<rect x="866" y="10" width="12" height="12.5" fill="none" stroke="#555" stroke-width="0.9" stroke-dasharray="1,1"/>
<text x="868.3" y="21" font-size="11" font-weight="bold" fill="#555">T</text>
<path d="M897,10 l3,3 h-6z M897,16.5 l-3,-3 h6z" fill="#444"/>
<path d="M904,15.5 l3,3 h-6z M904,22 l-3,-3 h6z" fill="#444"/>
<path d="M895.5,16.5 l2,2 l3.5,-3.5" stroke="#444" stroke-width="1" fill="none"/>
<polygon points="914.0,15 919.0,15 916.5,18" fill="#000"/>
<rect x="925" y="4" width="1" height="22" fill="#a0a0a0"/><rect x="926" y="4" width="1" height="22" fill="#fff"/>
<rect x="929" y="5" width="3" height="1" fill="#a8a8a8"/>
<rect x="929" y="7" width="3" height="1" fill="#a8a8a8"/>
<rect x="929" y="9" width="3" height="1" fill="#a8a8a8"/>
<rect x="929" y="11" width="3" height="1" fill="#a8a8a8"/>
<rect x="929" y="13" width="3" height="1" fill="#a8a8a8"/>
<rect x="929" y="15" width="3" height="1" fill="#a8a8a8"/>
<rect x="929" y="17" width="3" height="1" fill="#a8a8a8"/>
<rect x="929" y="19" width="3" height="1" fill="#a8a8a8"/>
<rect x="929" y="21" width="3" height="1" fill="#a8a8a8"/>
<rect x="929" y="23" width="3" height="1" fill="#a8a8a8"/>
<rect x="1075" y="4" width="25" height="22" fill="#f8f8f8"/><rect x="1075" y="4" width="25" height="1" fill="#c0c0c0"/><rect x="1075" y="4" width="1" height="22" fill="#c0c0c0"/><rect x="1075" y="25" width="25" height="1" fill="#fff"/><rect x="1099" y="4" width="1" height="22" fill="#fff"/>
<text x="947" y="19.8" font-size="9" fill="#333" text-anchor="middle">M1</text>
<text x="975" y="19.8" font-size="9" fill="#333" text-anchor="middle">M5</text>
<text x="1002.5" y="19.8" font-size="9" fill="#333" text-anchor="middle">M15</text>
<text x="1031" y="19.8" font-size="9" fill="#333" text-anchor="middle">M30</text>
<text x="1059.3" y="19.8" font-size="9" fill="#333" text-anchor="middle">H1</text>
<text x="1087" y="19.8" font-size="9" fill="#333" text-anchor="middle">H4</text>
<text x="1115.3" y="19.8" font-size="9" fill="#333" text-anchor="middle">D1</text>
<text x="1143.5" y="19.8" font-size="9" fill="#333" text-anchor="middle">W1</text>
<text x="1171.3" y="19.8" font-size="9" fill="#333" text-anchor="middle">MN</text>
<rect x="1186" y="4" width="1" height="22" fill="#a0a0a0"/><rect x="1187" y="4" width="1" height="22" fill="#fff"/>
<path d="M1653.8,16.3 L1649,21" stroke="#2a62d0" stroke-width="2.2" stroke-linecap="round"/>
<circle cx="1656.5" cy="13.3" r="3.9" fill="#f4f8ff" stroke="#2a62d0" stroke-width="1.3"/>
<path d="M1673.5,18.5 a5.5,4.5 0 1 1 5,4 l-2.5,2.2 l0.3,-2.6 a5,4 0 0 1 -2.8,-3.6z" fill="#e4e6ea" stroke="#b8bcc4" stroke-width="0.7"/>
<circle cx="1687.6" cy="13.2" r="8.2" fill="url(#gr)"/>
<text x="1687.4" y="17.6" font-size="12.5" fill="#fff" text-anchor="middle">1</text>
</svg>
<div id="panel">
 <div class="pb" style="left:0;top:0;width:51px;height:24px;line-height:23px;border-top:1px solid #c42020;box-sizing:border-box;"><span style="position:relative;left:-1.5px;letter-spacing:-0.4px">SELL</span><div style="position:absolute;left:3px;right:4px;bottom:0;height:1px;background:#f9a3a3"></div><div style="position:absolute;left:3px;right:4px;bottom:1px;height:1px;background:#a80808"></div></div>
 <div class="pb" style="left:166px;top:0;width:52px;height:24px;line-height:23px;border-top:1px solid #c42020;box-sizing:border-box;"><span style="position:relative;left:-1px;letter-spacing:-0.3px">BUY</span><div style="position:absolute;left:4px;right:4px;bottom:0;height:1px;background:#f9a3a3"></div><div style="position:absolute;left:4px;right:4px;bottom:1px;height:1px;background:#a80808"></div></div>
 <div style="position:absolute;left:53px;top:0;width:111px;height:22px;border:1px solid #a9adb3;box-sizing:border-box;background:#fff;">
   <div style="position:absolute;left:1px;top:1px;width:19px;height:18px;background:linear-gradient(#f2f2f2 0,#ebebeb 48%,#d6d6d6 52%,#cfcfcf 100%);border:1px solid #b9b9b9;box-sizing:border-box;"></div>
   <div style="position:absolute;right:1px;top:1px;width:19px;height:18px;background:linear-gradient(#f2f2f2 0,#ebebeb 48%,#d6d6d6 52%,#cfcfcf 100%);border:1px solid #b9b9b9;box-sizing:border-box;"></div>
   <svg style="position:absolute;left:0;top:0" width="109" height="20"><polygon points="7.8,8.5 13.2,8.5 10.5,11.5" fill="#4a5fc0"/><polygon points="95.8,11.5 101.2,11.5 98.5,8.5" fill="#4a5fc0"/></svg>
   <div style="position:absolute;right:25px;top:3.5px;font-size:11.5px;line-height:13px;color:#111;">1.00</div>
 </div>
 <div class="pp" style="left:0;width:108px;"><b style="left:15px;">24172</b><span style="left:51.5px;">.5</span></div>
 <div class="pp" style="left:110px;width:108px;"><b style="left:15px;">24185</b><span style="left:52.5px;">.5</span></div>
</div>
</body>
</html>
